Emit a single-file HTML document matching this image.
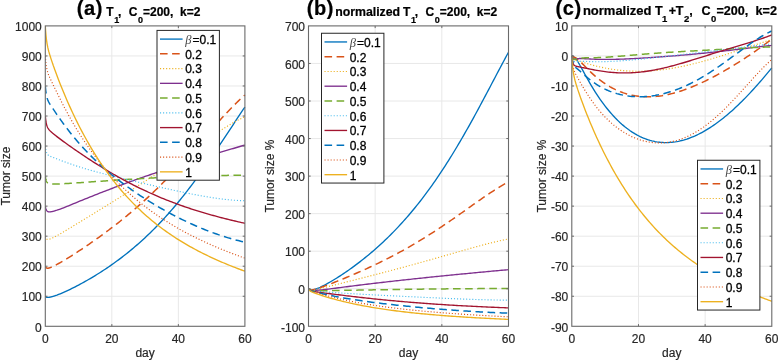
<!DOCTYPE html>
<html><head><meta charset="utf-8"><style>
html,body{margin:0;padding:0;background:#fff;width:778px;height:360px;overflow:hidden}
svg{display:block;will-change:transform}
.t{font-family:"Liberation Sans",sans-serif;font-size:12px;fill:#262626;stroke:#262626;stroke-width:0.18px}
.lg{fill:#000;stroke:#000;stroke-width:0.3px}
.beta{font-family:"Liberation Serif",serif;font-style:italic;font-size:12.5px;fill:#444}
.tb{font-family:"Liberation Sans",sans-serif;font-weight:bold;fill:#000;stroke:#000;stroke-width:0.22px}
</style></head><body>
<svg width="778" height="360" viewBox="0 0 778 360">
<defs>
<clipPath id="clipa"><rect x="45.30" y="24.90" width="200.60" height="302.40"/></clipPath>
<clipPath id="clipb"><rect x="308.50" y="24.90" width="201.00" height="302.40"/></clipPath>
<clipPath id="clipc"><rect x="571.80" y="24.90" width="201.00" height="302.40"/></clipPath>
</defs>
<rect width="778" height="360" fill="#fff"/>
<line x1="111.83" y1="25.90" x2="111.83" y2="326.30" stroke="#e8e8e8" stroke-width="1"/>
<line x1="178.37" y1="25.90" x2="178.37" y2="326.30" stroke="#e8e8e8" stroke-width="1"/>
<line x1="45.30" y1="296.26" x2="244.90" y2="296.26" stroke="#e8e8e8" stroke-width="1"/>
<line x1="45.30" y1="266.22" x2="244.90" y2="266.22" stroke="#e8e8e8" stroke-width="1"/>
<line x1="45.30" y1="236.18" x2="244.90" y2="236.18" stroke="#e8e8e8" stroke-width="1"/>
<line x1="45.30" y1="206.14" x2="244.90" y2="206.14" stroke="#e8e8e8" stroke-width="1"/>
<line x1="45.30" y1="176.10" x2="244.90" y2="176.10" stroke="#e8e8e8" stroke-width="1"/>
<line x1="45.30" y1="146.06" x2="244.90" y2="146.06" stroke="#e8e8e8" stroke-width="1"/>
<line x1="45.30" y1="116.02" x2="244.90" y2="116.02" stroke="#e8e8e8" stroke-width="1"/>
<line x1="45.30" y1="85.98" x2="244.90" y2="85.98" stroke="#e8e8e8" stroke-width="1"/>
<line x1="45.30" y1="55.94" x2="244.90" y2="55.94" stroke="#e8e8e8" stroke-width="1"/>
<line x1="375.17" y1="25.90" x2="375.17" y2="326.30" stroke="#e8e8e8" stroke-width="1"/>
<line x1="441.83" y1="25.90" x2="441.83" y2="326.30" stroke="#e8e8e8" stroke-width="1"/>
<line x1="308.50" y1="288.75" x2="508.50" y2="288.75" stroke="#e8e8e8" stroke-width="1"/>
<line x1="308.50" y1="251.20" x2="508.50" y2="251.20" stroke="#e8e8e8" stroke-width="1"/>
<line x1="308.50" y1="213.65" x2="508.50" y2="213.65" stroke="#e8e8e8" stroke-width="1"/>
<line x1="308.50" y1="176.10" x2="508.50" y2="176.10" stroke="#e8e8e8" stroke-width="1"/>
<line x1="308.50" y1="138.55" x2="508.50" y2="138.55" stroke="#e8e8e8" stroke-width="1"/>
<line x1="308.50" y1="101.00" x2="508.50" y2="101.00" stroke="#e8e8e8" stroke-width="1"/>
<line x1="308.50" y1="63.45" x2="508.50" y2="63.45" stroke="#e8e8e8" stroke-width="1"/>
<line x1="638.47" y1="25.90" x2="638.47" y2="326.30" stroke="#e8e8e8" stroke-width="1"/>
<line x1="705.13" y1="25.90" x2="705.13" y2="326.30" stroke="#e8e8e8" stroke-width="1"/>
<line x1="571.80" y1="296.26" x2="771.80" y2="296.26" stroke="#e8e8e8" stroke-width="1"/>
<line x1="571.80" y1="266.22" x2="771.80" y2="266.22" stroke="#e8e8e8" stroke-width="1"/>
<line x1="571.80" y1="236.18" x2="771.80" y2="236.18" stroke="#e8e8e8" stroke-width="1"/>
<line x1="571.80" y1="206.14" x2="771.80" y2="206.14" stroke="#e8e8e8" stroke-width="1"/>
<line x1="571.80" y1="176.10" x2="771.80" y2="176.10" stroke="#e8e8e8" stroke-width="1"/>
<line x1="571.80" y1="146.06" x2="771.80" y2="146.06" stroke="#e8e8e8" stroke-width="1"/>
<line x1="571.80" y1="116.02" x2="771.80" y2="116.02" stroke="#e8e8e8" stroke-width="1"/>
<line x1="571.80" y1="85.98" x2="771.80" y2="85.98" stroke="#e8e8e8" stroke-width="1"/>
<line x1="571.80" y1="55.94" x2="771.80" y2="55.94" stroke="#e8e8e8" stroke-width="1"/>
<path d="M45.30 296.26 L45.47 296.47 L45.63 296.64 L45.80 296.79 L45.97 296.92 L46.13 297.02 L46.30 297.11 L46.46 297.18 L46.63 297.24 L46.80 297.29 L46.96 297.33 L47.13 297.36 L47.30 297.38 L47.46 297.39 L47.63 297.40 L47.79 297.41 L47.96 297.40 L48.13 297.40 L48.29 297.39 L48.46 297.38 L48.63 297.36 L48.79 297.34 L48.96 297.32 L49.13 297.30 L49.29 297.28 L49.46 297.25 L49.62 297.22 L49.79 297.19 L49.96 297.16 L50.12 297.13 L50.29 297.09 L50.46 297.06 L50.62 297.02 L50.79 296.98 L50.96 296.94 L51.12 296.90 L51.29 296.86 L51.45 296.82 L51.62 296.78 L51.79 296.74 L51.95 296.69 L52.12 296.65 L52.29 296.60 L52.45 296.55 L52.62 296.51 L52.78 296.46 L52.95 296.41 L53.12 296.36 L53.28 296.31 L53.45 296.26 L53.62 296.21 L53.78 296.16 L53.95 296.10 L54.12 296.05 L54.28 296.00 L54.45 295.94 L54.61 295.89 L54.78 295.83 L54.95 295.78 L55.11 295.72 L55.28 295.67 L56.94 295.08 L58.61 294.44 L60.27 293.78 L61.93 293.08 L63.60 292.36 L65.26 291.62 L66.92 290.86 L68.59 290.07 L70.25 289.28 L71.91 288.46 L73.58 287.63 L75.24 286.78 L76.90 285.92 L78.57 285.05 L80.23 284.16 L81.89 283.26 L83.56 282.35 L85.22 281.42 L86.88 280.48 L88.55 279.52 L90.21 278.55 L91.87 277.57 L93.54 276.58 L95.20 275.57 L96.86 274.54 L98.53 273.50 L100.19 272.45 L101.85 271.38 L103.52 270.30 L105.18 269.20 L106.84 268.09 L108.51 266.96 L110.17 265.82 L111.83 264.65 L113.50 263.48 L115.16 262.28 L116.82 261.07 L118.49 259.84 L120.15 258.60 L121.81 257.34 L123.48 256.05 L125.14 254.75 L126.80 253.44 L128.47 252.10 L130.13 250.74 L131.79 249.37 L133.46 247.97 L135.12 246.56 L136.78 245.12 L138.45 243.67 L140.11 242.19 L141.77 240.70 L143.44 239.18 L145.10 237.64 L146.76 236.08 L148.43 234.49 L150.09 232.89 L151.75 231.26 L153.42 229.61 L155.08 227.93 L156.74 226.24 L158.41 224.52 L160.07 222.77 L161.73 221.00 L163.40 219.21 L165.06 217.40 L166.72 215.56 L168.39 213.70 L170.05 211.81 L171.71 209.90 L173.38 207.96 L175.04 206.00 L176.70 204.02 L178.37 202.01 L180.03 199.98 L181.69 197.92 L183.36 195.84 L185.02 193.73 L186.68 191.60 L188.35 189.45 L190.01 187.28 L191.67 185.08 L193.34 182.86 L195.00 180.61 L196.66 178.35 L198.33 176.06 L199.99 173.76 L201.65 171.43 L203.32 169.08 L204.98 166.71 L206.64 164.33 L208.31 161.93 L209.97 159.51 L211.63 157.07 L213.30 154.63 L214.96 152.16 L216.62 149.69 L218.29 147.20 L219.95 144.70 L221.61 142.19 L223.28 139.68 L224.94 137.16 L226.60 134.63 L228.27 132.10 L229.93 129.57 L231.59 127.04 L233.26 124.51 L234.92 121.98 L236.58 119.46 L238.25 116.95 L239.91 114.45 L241.57 111.96 L243.24 109.49 L244.90 107.03" fill="none" stroke="#0072BD" stroke-width="1.35"  stroke-linejoin="round" clip-path="url(#clipa)"/>
<path d="M45.30 266.22 L45.47 266.60 L45.63 266.93 L45.80 267.20 L45.97 267.42 L46.13 267.61 L46.30 267.76 L46.46 267.88 L46.63 267.98 L46.80 268.06 L46.96 268.12 L47.13 268.16 L47.30 268.19 L47.46 268.21 L47.63 268.22 L47.79 268.22 L47.96 268.21 L48.13 268.19 L48.29 268.17 L48.46 268.14 L48.63 268.10 L48.79 268.06 L48.96 268.02 L49.13 267.98 L49.29 267.93 L49.46 267.88 L49.62 267.83 L49.79 267.77 L49.96 267.71 L50.12 267.65 L50.29 267.59 L50.46 267.53 L50.62 267.46 L50.79 267.40 L50.96 267.33 L51.12 267.26 L51.29 267.19 L51.45 267.12 L51.62 267.05 L51.79 266.98 L51.95 266.91 L52.12 266.83 L52.29 266.76 L52.45 266.68 L52.62 266.61 L52.78 266.53 L52.95 266.45 L53.12 266.38 L53.28 266.30 L53.45 266.22 L53.62 266.14 L53.78 266.06 L53.95 265.98 L54.12 265.90 L54.28 265.81 L54.45 265.73 L54.61 265.65 L54.78 265.56 L54.95 265.48 L55.11 265.40 L55.28 265.31 L56.94 264.44 L58.61 263.53 L60.27 262.59 L61.93 261.63 L63.60 260.65 L65.26 259.65 L66.92 258.64 L68.59 257.61 L70.25 256.57 L71.91 255.52 L73.58 254.46 L75.24 253.39 L76.90 252.31 L78.57 251.22 L80.23 250.13 L81.89 249.03 L83.56 247.91 L85.22 246.80 L86.88 245.67 L88.55 244.53 L90.21 243.39 L91.87 242.24 L93.54 241.08 L95.20 239.91 L96.86 238.73 L98.53 237.55 L100.19 236.35 L101.85 235.14 L103.52 233.93 L105.18 232.71 L106.84 231.47 L108.51 230.23 L110.17 228.97 L111.83 227.71 L113.50 226.43 L115.16 225.15 L116.82 223.85 L118.49 222.54 L120.15 221.22 L121.81 219.89 L123.48 218.55 L125.14 217.19 L126.80 215.82 L128.47 214.44 L130.13 213.05 L131.79 211.64 L133.46 210.22 L135.12 208.79 L136.78 207.34 L138.45 205.89 L140.11 204.41 L141.77 202.93 L143.44 201.43 L145.10 199.91 L146.76 198.39 L148.43 196.84 L150.09 195.29 L151.75 193.72 L153.42 192.13 L155.08 190.54 L156.74 188.92 L158.41 187.30 L160.07 185.66 L161.73 184.00 L163.40 182.34 L165.06 180.66 L166.72 178.96 L168.39 177.25 L170.05 175.53 L171.71 173.80 L173.38 172.05 L175.04 170.29 L176.70 168.52 L178.37 166.74 L180.03 164.94 L181.69 163.14 L183.36 161.32 L185.02 159.50 L186.68 157.66 L188.35 155.82 L190.01 153.96 L191.67 152.10 L193.34 150.24 L195.00 148.36 L196.66 146.49 L198.33 144.60 L199.99 142.72 L201.65 140.83 L203.32 138.94 L204.98 137.05 L206.64 135.15 L208.31 133.26 L209.97 131.38 L211.63 129.49 L213.30 127.62 L214.96 125.74 L216.62 123.88 L218.29 122.03 L219.95 120.18 L221.61 118.35 L223.28 116.54 L224.94 114.73 L226.60 112.95 L228.27 111.19 L229.93 109.44 L231.59 107.73 L233.26 106.03 L234.92 104.36 L236.58 102.73 L238.25 101.12 L239.91 99.55 L241.57 98.01 L243.24 96.51 L244.90 95.05" fill="none" stroke="#D95319" stroke-width="1.50" stroke-dasharray="7.6 4.5" stroke-linejoin="round" clip-path="url(#clipa)"/>
<path d="M45.30 236.18 L45.47 236.77 L45.63 237.26 L45.80 237.68 L45.97 238.03 L46.13 238.33 L46.30 238.57 L46.46 238.77 L46.63 238.94 L46.80 239.07 L46.96 239.18 L47.13 239.26 L47.30 239.33 L47.46 239.37 L47.63 239.41 L47.79 239.42 L47.96 239.43 L48.13 239.43 L48.29 239.42 L48.46 239.40 L48.63 239.37 L48.79 239.34 L48.96 239.30 L49.13 239.26 L49.29 239.21 L49.46 239.16 L49.62 239.11 L49.79 239.06 L49.96 239.00 L50.12 238.94 L50.29 238.88 L50.46 238.81 L50.62 238.75 L50.79 238.68 L50.96 238.61 L51.12 238.54 L51.29 238.47 L51.45 238.39 L51.62 238.32 L51.79 238.25 L51.95 238.17 L52.12 238.09 L52.29 238.02 L52.45 237.94 L52.62 237.86 L52.78 237.78 L52.95 237.70 L53.12 237.62 L53.28 237.54 L53.45 237.46 L53.62 237.38 L53.78 237.29 L53.95 237.21 L54.12 237.13 L54.28 237.04 L54.45 236.96 L54.61 236.87 L54.78 236.78 L54.95 236.70 L55.11 236.61 L55.28 236.53 L56.94 235.64 L58.61 234.72 L60.27 233.77 L61.93 232.81 L63.60 231.84 L65.26 230.86 L66.92 229.86 L68.59 228.87 L70.25 227.86 L71.91 226.85 L73.58 225.84 L75.24 224.83 L76.90 223.82 L78.57 222.81 L80.23 221.79 L81.89 220.77 L83.56 219.76 L85.22 218.74 L86.88 217.72 L88.55 216.70 L90.21 215.69 L91.87 214.67 L93.54 213.65 L95.20 212.63 L96.86 211.61 L98.53 210.58 L100.19 209.56 L101.85 208.54 L103.52 207.51 L105.18 206.49 L106.84 205.46 L108.51 204.43 L110.17 203.40 L111.83 202.36 L113.50 201.33 L115.16 200.29 L116.82 199.26 L118.49 198.22 L120.15 197.17 L121.81 196.13 L123.48 195.08 L125.14 194.03 L126.80 192.98 L128.47 191.92 L130.13 190.86 L131.79 189.80 L133.46 188.74 L135.12 187.67 L136.78 186.60 L138.45 185.53 L140.11 184.45 L141.77 183.37 L143.44 182.29 L145.10 181.20 L146.76 180.11 L148.43 179.02 L150.09 177.92 L151.75 176.82 L153.42 175.72 L155.08 174.62 L156.74 173.51 L158.41 172.39 L160.07 171.28 L161.73 170.16 L163.40 169.04 L165.06 167.92 L166.72 166.79 L168.39 165.66 L170.05 164.53 L171.71 163.40 L173.38 162.26 L175.04 161.13 L176.70 159.99 L178.37 158.85 L180.03 157.70 L181.69 156.56 L183.36 155.42 L185.02 154.27 L186.68 153.13 L188.35 151.99 L190.01 150.84 L191.67 149.70 L193.34 148.56 L195.00 147.42 L196.66 146.28 L198.33 145.14 L199.99 144.01 L201.65 142.88 L203.32 141.75 L204.98 140.63 L206.64 139.51 L208.31 138.40 L209.97 137.29 L211.63 136.19 L213.30 135.09 L214.96 134.01 L216.62 132.93 L218.29 131.86 L219.95 130.80 L221.61 129.75 L223.28 128.71 L224.94 127.69 L226.60 126.67 L228.27 125.67 L229.93 124.69 L231.59 123.72 L233.26 122.76 L234.92 121.82 L236.58 120.90 L238.25 120.00 L239.91 119.12 L241.57 118.25 L243.24 117.41 L244.90 116.60" fill="none" stroke="#EDB120" stroke-width="1.15" stroke-dasharray="1.1 1.95"  stroke-linejoin="round" clip-path="url(#clipa)"/>
<path d="M45.30 206.14 L45.47 207.00 L45.63 207.74 L45.80 208.37 L45.97 208.91 L46.13 209.38 L46.30 209.77 L46.46 210.12 L46.63 210.41 L46.80 210.66 L46.96 210.87 L47.13 211.06 L47.30 211.21 L47.46 211.34 L47.63 211.46 L47.79 211.55 L47.96 211.63 L48.13 211.69 L48.29 211.75 L48.46 211.79 L48.63 211.83 L48.79 211.85 L48.96 211.87 L49.13 211.88 L49.29 211.89 L49.46 211.89 L49.62 211.89 L49.79 211.89 L49.96 211.88 L50.12 211.87 L50.29 211.85 L50.46 211.83 L50.62 211.81 L50.79 211.79 L50.96 211.77 L51.12 211.74 L51.29 211.71 L51.45 211.68 L51.62 211.65 L51.79 211.62 L51.95 211.59 L52.12 211.55 L52.29 211.52 L52.45 211.48 L52.62 211.44 L52.78 211.40 L52.95 211.36 L53.12 211.32 L53.28 211.28 L53.45 211.24 L53.62 211.20 L53.78 211.15 L53.95 211.11 L54.12 211.06 L54.28 211.01 L54.45 210.97 L54.61 210.92 L54.78 210.87 L54.95 210.82 L55.11 210.77 L55.28 210.72 L56.94 210.20 L58.61 209.63 L60.27 209.03 L61.93 208.40 L63.60 207.76 L65.26 207.10 L66.92 206.44 L68.59 205.76 L70.25 205.08 L71.91 204.40 L73.58 203.72 L75.24 203.03 L76.90 202.35 L78.57 201.66 L80.23 200.98 L81.89 200.30 L83.56 199.62 L85.22 198.95 L86.88 198.27 L88.55 197.60 L90.21 196.93 L91.87 196.26 L93.54 195.60 L95.20 194.94 L96.86 194.28 L98.53 193.63 L100.19 192.98 L101.85 192.33 L103.52 191.68 L105.18 191.04 L106.84 190.40 L108.51 189.76 L110.17 189.13 L111.83 188.50 L113.50 187.87 L115.16 187.24 L116.82 186.62 L118.49 186.00 L120.15 185.39 L121.81 184.77 L123.48 184.16 L125.14 183.55 L126.80 182.95 L128.47 182.34 L130.13 181.74 L131.79 181.15 L133.46 180.55 L135.12 179.96 L136.78 179.37 L138.45 178.78 L140.11 178.20 L141.77 177.62 L143.44 177.04 L145.10 176.46 L146.76 175.88 L148.43 175.31 L150.09 174.74 L151.75 174.17 L153.42 173.61 L155.08 173.05 L156.74 172.48 L158.41 171.93 L160.07 171.37 L161.73 170.81 L163.40 170.26 L165.06 169.71 L166.72 169.16 L168.39 168.62 L170.05 168.07 L171.71 167.53 L173.38 166.99 L175.04 166.45 L176.70 165.91 L178.37 165.37 L180.03 164.84 L181.69 164.31 L183.36 163.78 L185.02 163.25 L186.68 162.72 L188.35 162.20 L190.01 161.67 L191.67 161.15 L193.34 160.63 L195.00 160.11 L196.66 159.59 L198.33 159.07 L199.99 158.56 L201.65 158.04 L203.32 157.53 L204.98 157.02 L206.64 156.51 L208.31 156.00 L209.97 155.49 L211.63 154.98 L213.30 154.47 L214.96 153.97 L216.62 153.47 L218.29 152.96 L219.95 152.46 L221.61 151.96 L223.28 151.46 L224.94 150.96 L226.60 150.46 L228.27 149.96 L229.93 149.47 L231.59 148.97 L233.26 148.48 L234.92 147.98 L236.58 147.49 L238.25 146.99 L239.91 146.50 L241.57 146.01 L243.24 145.52 L244.90 145.03" fill="none" stroke="#7E2F8E" stroke-width="1.35"  stroke-linejoin="round" clip-path="url(#clipa)"/>
<path d="M45.30 176.10 L45.47 177.17 L45.63 178.09 L45.80 178.89 L45.97 179.57 L46.13 180.15 L46.30 180.66 L46.46 181.09 L46.63 181.47 L46.80 181.80 L46.96 182.08 L47.13 182.32 L47.30 182.53 L47.46 182.72 L47.63 182.88 L47.79 183.02 L47.96 183.14 L48.13 183.25 L48.29 183.34 L48.46 183.42 L48.63 183.49 L48.79 183.56 L48.96 183.61 L49.13 183.66 L49.29 183.70 L49.46 183.74 L49.62 183.77 L49.79 183.80 L49.96 183.83 L50.12 183.86 L50.29 183.88 L50.46 183.90 L50.62 183.91 L50.79 183.93 L50.96 183.94 L51.12 183.95 L51.29 183.96 L51.45 183.97 L51.62 183.98 L51.79 183.99 L51.95 184.00 L52.12 184.00 L52.29 184.01 L52.45 184.01 L52.62 184.02 L52.78 184.02 L52.95 184.02 L53.12 184.03 L53.28 184.03 L53.45 184.03 L53.62 184.03 L53.78 184.03 L53.95 184.03 L54.12 184.03 L54.28 184.03 L54.45 184.03 L54.61 184.03 L54.78 184.03 L54.95 184.03 L55.11 184.02 L55.28 184.02 L56.94 183.99 L58.61 183.94 L60.27 183.87 L61.93 183.80 L63.60 183.71 L65.26 183.62 L66.92 183.52 L68.59 183.41 L70.25 183.31 L71.91 183.20 L73.58 183.09 L75.24 182.98 L76.90 182.86 L78.57 182.75 L80.23 182.63 L81.89 182.52 L83.56 182.40 L85.22 182.29 L86.88 182.17 L88.55 182.05 L90.21 181.94 L91.87 181.82 L93.54 181.70 L95.20 181.59 L96.86 181.47 L98.53 181.36 L100.19 181.24 L101.85 181.13 L103.52 181.01 L105.18 180.90 L106.84 180.78 L108.51 180.67 L110.17 180.56 L111.83 180.45 L113.50 180.34 L115.16 180.23 L116.82 180.12 L118.49 180.01 L120.15 179.90 L121.81 179.79 L123.48 179.68 L125.14 179.58 L126.80 179.47 L128.47 179.37 L130.13 179.26 L131.79 179.16 L133.46 179.06 L135.12 178.96 L136.78 178.86 L138.45 178.76 L140.11 178.66 L141.77 178.57 L143.44 178.47 L145.10 178.38 L146.76 178.28 L148.43 178.19 L150.09 178.10 L151.75 178.01 L153.42 177.92 L155.08 177.83 L156.74 177.75 L158.41 177.66 L160.07 177.58 L161.73 177.49 L163.40 177.41 L165.06 177.33 L166.72 177.25 L168.39 177.18 L170.05 177.10 L171.71 177.03 L173.38 176.95 L175.04 176.88 L176.70 176.81 L178.37 176.74 L180.03 176.67 L181.69 176.61 L183.36 176.54 L185.02 176.48 L186.68 176.42 L188.35 176.36 L190.01 176.30 L191.67 176.24 L193.34 176.19 L195.00 176.13 L196.66 176.08 L198.33 176.03 L199.99 175.98 L201.65 175.93 L203.32 175.88 L204.98 175.84 L206.64 175.79 L208.31 175.75 L209.97 175.71 L211.63 175.67 L213.30 175.63 L214.96 175.60 L216.62 175.56 L218.29 175.53 L219.95 175.50 L221.61 175.47 L223.28 175.44 L224.94 175.41 L226.60 175.39 L228.27 175.36 L229.93 175.34 L231.59 175.32 L233.26 175.30 L234.92 175.28 L236.58 175.27 L238.25 175.25 L239.91 175.24 L241.57 175.23 L243.24 175.21 L244.90 175.21" fill="none" stroke="#77AC30" stroke-width="1.50" stroke-dasharray="7.6 4.5" stroke-linejoin="round" clip-path="url(#clipa)"/>
<path d="M45.30 146.06 L45.47 147.36 L45.63 148.47 L45.80 149.43 L45.97 150.26 L46.13 150.98 L46.30 151.60 L46.46 152.15 L46.63 152.62 L46.80 153.03 L46.96 153.40 L47.13 153.71 L47.30 154.00 L47.46 154.25 L47.63 154.47 L47.79 154.67 L47.96 154.85 L48.13 155.01 L48.29 155.16 L48.46 155.29 L48.63 155.42 L48.79 155.53 L48.96 155.64 L49.13 155.74 L49.29 155.83 L49.46 155.92 L49.62 156.01 L49.79 156.09 L49.96 156.17 L50.12 156.25 L50.29 156.32 L50.46 156.39 L50.62 156.46 L50.79 156.53 L50.96 156.60 L51.12 156.67 L51.29 156.74 L51.45 156.80 L51.62 156.87 L51.79 156.93 L51.95 157.00 L52.12 157.06 L52.29 157.13 L52.45 157.19 L52.62 157.26 L52.78 157.32 L52.95 157.39 L53.12 157.45 L53.28 157.51 L53.45 157.58 L53.62 157.64 L53.78 157.70 L53.95 157.77 L54.12 157.83 L54.28 157.90 L54.45 157.96 L54.61 158.02 L54.78 158.09 L54.95 158.15 L55.11 158.22 L55.28 158.28 L56.94 158.92 L58.61 159.57 L60.27 160.21 L61.93 160.84 L63.60 161.47 L65.26 162.08 L66.92 162.69 L68.59 163.29 L70.25 163.88 L71.91 164.45 L73.58 165.02 L75.24 165.57 L76.90 166.12 L78.57 166.65 L80.23 167.18 L81.89 167.70 L83.56 168.20 L85.22 168.70 L86.88 169.20 L88.55 169.68 L90.21 170.16 L91.87 170.63 L93.54 171.09 L95.20 171.55 L96.86 172.00 L98.53 172.45 L100.19 172.89 L101.85 173.32 L103.52 173.76 L105.18 174.18 L106.84 174.61 L108.51 175.03 L110.17 175.45 L111.83 175.86 L113.50 176.27 L115.16 176.68 L116.82 177.09 L118.49 177.49 L120.15 177.90 L121.81 178.30 L123.48 178.69 L125.14 179.09 L126.80 179.49 L128.47 179.88 L130.13 180.27 L131.79 180.67 L133.46 181.06 L135.12 181.45 L136.78 181.84 L138.45 182.22 L140.11 182.61 L141.77 183.00 L143.44 183.38 L145.10 183.77 L146.76 184.15 L148.43 184.53 L150.09 184.92 L151.75 185.30 L153.42 185.68 L155.08 186.06 L156.74 186.44 L158.41 186.82 L160.07 187.19 L161.73 187.57 L163.40 187.94 L165.06 188.32 L166.72 188.69 L168.39 189.06 L170.05 189.43 L171.71 189.80 L173.38 190.16 L175.04 190.52 L176.70 190.88 L178.37 191.24 L180.03 191.60 L181.69 191.95 L183.36 192.30 L185.02 192.64 L186.68 192.99 L188.35 193.33 L190.01 193.66 L191.67 193.99 L193.34 194.32 L195.00 194.64 L196.66 194.96 L198.33 195.27 L199.99 195.58 L201.65 195.88 L203.32 196.18 L204.98 196.47 L206.64 196.75 L208.31 197.03 L209.97 197.30 L211.63 197.56 L213.30 197.82 L214.96 198.06 L216.62 198.30 L218.29 198.53 L219.95 198.75 L221.61 198.96 L223.28 199.17 L224.94 199.36 L226.60 199.54 L228.27 199.71 L229.93 199.87 L231.59 200.02 L233.26 200.16 L234.92 200.28 L236.58 200.39 L238.25 200.49 L239.91 200.57 L241.57 200.64 L243.24 200.70 L244.90 200.73" fill="none" stroke="#4DBEEE" stroke-width="1.15" stroke-dasharray="1.1 1.95"  stroke-linejoin="round" clip-path="url(#clipa)"/>
<path d="M45.30 116.02 L45.47 117.67 L45.63 119.10 L45.80 120.35 L45.97 121.44 L46.13 122.40 L46.30 123.24 L46.46 123.99 L46.63 124.66 L46.80 125.25 L46.96 125.78 L47.13 126.26 L47.30 126.70 L47.46 127.09 L47.63 127.45 L47.79 127.78 L47.96 128.09 L48.13 128.37 L48.29 128.64 L48.46 128.89 L48.63 129.13 L48.79 129.35 L48.96 129.57 L49.13 129.77 L49.29 129.97 L49.46 130.16 L49.62 130.34 L49.79 130.52 L49.96 130.69 L50.12 130.86 L50.29 131.03 L50.46 131.19 L50.62 131.35 L50.79 131.51 L50.96 131.66 L51.12 131.81 L51.29 131.97 L51.45 132.12 L51.62 132.26 L51.79 132.41 L51.95 132.56 L52.12 132.70 L52.29 132.84 L52.45 132.99 L52.62 133.13 L52.78 133.27 L52.95 133.41 L53.12 133.55 L53.28 133.69 L53.45 133.82 L53.62 133.96 L53.78 134.10 L53.95 134.23 L54.12 134.37 L54.28 134.51 L54.45 134.64 L54.61 134.78 L54.78 134.91 L54.95 135.04 L55.11 135.18 L55.28 135.31 L56.94 136.62 L58.61 137.90 L60.27 139.15 L61.93 140.39 L63.60 141.61 L65.26 142.82 L66.92 144.02 L68.59 145.21 L70.25 146.39 L71.91 147.56 L73.58 148.72 L75.24 149.87 L76.90 151.02 L78.57 152.16 L80.23 153.29 L81.89 154.41 L83.56 155.53 L85.22 156.64 L86.88 157.74 L88.55 158.83 L90.21 159.92 L91.87 161.00 L93.54 162.06 L95.20 163.13 L96.86 164.18 L98.53 165.22 L100.19 166.26 L101.85 167.28 L103.52 168.30 L105.18 169.31 L106.84 170.31 L108.51 171.30 L110.17 172.28 L111.83 173.25 L113.50 174.22 L115.16 175.17 L116.82 176.11 L118.49 177.05 L120.15 177.97 L121.81 178.89 L123.48 179.80 L125.14 180.69 L126.80 181.58 L128.47 182.46 L130.13 183.32 L131.79 184.18 L133.46 185.03 L135.12 185.87 L136.78 186.70 L138.45 187.52 L140.11 188.33 L141.77 189.13 L143.44 189.92 L145.10 190.71 L146.76 191.48 L148.43 192.24 L150.09 193.00 L151.75 193.74 L153.42 194.48 L155.08 195.21 L156.74 195.92 L158.41 196.63 L160.07 197.33 L161.73 198.02 L163.40 198.71 L165.06 199.38 L166.72 200.05 L168.39 200.70 L170.05 201.35 L171.71 201.99 L173.38 202.62 L175.04 203.24 L176.70 203.86 L178.37 204.46 L180.03 205.06 L181.69 205.65 L183.36 206.24 L185.02 206.81 L186.68 207.38 L188.35 207.94 L190.01 208.49 L191.67 209.04 L193.34 209.58 L195.00 210.11 L196.66 210.63 L198.33 211.15 L199.99 211.66 L201.65 212.16 L203.32 212.66 L204.98 213.15 L206.64 213.64 L208.31 214.11 L209.97 214.59 L211.63 215.05 L213.30 215.51 L214.96 215.97 L216.62 216.42 L218.29 216.86 L219.95 217.30 L221.61 217.73 L223.28 218.16 L224.94 218.58 L226.60 218.99 L228.27 219.41 L229.93 219.81 L231.59 220.22 L233.26 220.62 L234.92 221.01 L236.58 221.40 L238.25 221.79 L239.91 222.17 L241.57 222.55 L243.24 222.92 L244.90 223.29" fill="none" stroke="#A2142F" stroke-width="1.35"  stroke-linejoin="round" clip-path="url(#clipa)"/>
<path d="M45.30 85.98 L45.47 87.88 L45.63 89.54 L45.80 90.99 L45.97 92.27 L46.13 93.39 L46.30 94.39 L46.46 95.28 L46.63 96.08 L46.80 96.80 L46.96 97.45 L47.13 98.04 L47.30 98.58 L47.46 99.08 L47.63 99.54 L47.79 99.98 L47.96 100.38 L48.13 100.76 L48.29 101.13 L48.46 101.47 L48.63 101.80 L48.79 102.12 L48.96 102.43 L49.13 102.73 L49.29 103.02 L49.46 103.31 L49.62 103.59 L49.79 103.86 L49.96 104.13 L50.12 104.40 L50.29 104.66 L50.46 104.92 L50.62 105.18 L50.79 105.44 L50.96 105.70 L51.12 105.95 L51.29 106.21 L51.45 106.46 L51.62 106.71 L51.79 106.96 L51.95 107.21 L52.12 107.46 L52.29 107.71 L52.45 107.96 L52.62 108.21 L52.78 108.45 L52.95 108.70 L53.12 108.95 L53.28 109.20 L53.45 109.44 L53.62 109.69 L53.78 109.94 L53.95 110.18 L54.12 110.43 L54.28 110.67 L54.45 110.92 L54.61 111.16 L54.78 111.41 L54.95 111.65 L55.11 111.90 L55.28 112.14 L56.94 114.57 L58.61 116.97 L60.27 119.34 L61.93 121.67 L63.60 123.96 L65.26 126.21 L66.92 128.42 L68.59 130.58 L70.25 132.71 L71.91 134.79 L73.58 136.83 L75.24 138.83 L76.90 140.79 L78.57 142.71 L80.23 144.60 L81.89 146.45 L83.56 148.26 L85.22 150.04 L86.88 151.79 L88.55 153.51 L90.21 155.20 L91.87 156.86 L93.54 158.49 L95.20 160.09 L96.86 161.66 L98.53 163.21 L100.19 164.74 L101.85 166.24 L103.52 167.72 L105.18 169.17 L106.84 170.60 L108.51 172.02 L110.17 173.41 L111.83 174.78 L113.50 176.13 L115.16 177.46 L116.82 178.78 L118.49 180.07 L120.15 181.35 L121.81 182.62 L123.48 183.86 L125.14 185.09 L126.80 186.31 L128.47 187.51 L130.13 188.69 L131.79 189.86 L133.46 191.02 L135.12 192.16 L136.78 193.29 L138.45 194.41 L140.11 195.51 L141.77 196.60 L143.44 197.68 L145.10 198.74 L146.76 199.79 L148.43 200.84 L150.09 201.86 L151.75 202.88 L153.42 203.89 L155.08 204.88 L156.74 205.86 L158.41 206.84 L160.07 207.80 L161.73 208.75 L163.40 209.69 L165.06 210.61 L166.72 211.53 L168.39 212.44 L170.05 213.33 L171.71 214.22 L173.38 215.10 L175.04 215.96 L176.70 216.81 L178.37 217.66 L180.03 218.49 L181.69 219.31 L183.36 220.12 L185.02 220.92 L186.68 221.71 L188.35 222.49 L190.01 223.26 L191.67 224.02 L193.34 224.77 L195.00 225.50 L196.66 226.23 L198.33 226.95 L199.99 227.65 L201.65 228.34 L203.32 229.02 L204.98 229.69 L206.64 230.35 L208.31 231.00 L209.97 231.64 L211.63 232.26 L213.30 232.88 L214.96 233.48 L216.62 234.07 L218.29 234.64 L219.95 235.21 L221.61 235.76 L223.28 236.31 L224.94 236.83 L226.60 237.35 L228.27 237.85 L229.93 238.34 L231.59 238.82 L233.26 239.29 L234.92 239.74 L236.58 240.17 L238.25 240.60 L239.91 241.01 L241.57 241.40 L243.24 241.79 L244.90 242.15" fill="none" stroke="#0072BD" stroke-width="1.50" stroke-dasharray="7.6 4.5" stroke-linejoin="round" clip-path="url(#clipa)"/>
<path d="M45.30 55.94 L45.47 58.14 L45.63 60.06 L45.80 61.75 L45.97 63.24 L46.13 64.57 L46.30 65.75 L46.46 66.81 L46.63 67.76 L46.80 68.63 L46.96 69.42 L47.13 70.15 L47.30 70.82 L47.46 71.44 L47.63 72.02 L47.79 72.57 L47.96 73.08 L48.13 73.57 L48.29 74.04 L48.46 74.49 L48.63 74.93 L48.79 75.35 L48.96 75.76 L49.13 76.16 L49.29 76.55 L49.46 76.94 L49.62 77.32 L49.79 77.69 L49.96 78.06 L50.12 78.43 L50.29 78.79 L50.46 79.15 L50.62 79.51 L50.79 79.86 L50.96 80.22 L51.12 80.57 L51.29 80.92 L51.45 81.27 L51.62 81.62 L51.79 81.97 L51.95 82.32 L52.12 82.66 L52.29 83.01 L52.45 83.36 L52.62 83.70 L52.78 84.05 L52.95 84.39 L53.12 84.74 L53.28 85.09 L53.45 85.43 L53.62 85.78 L53.78 86.12 L53.95 86.46 L54.12 86.81 L54.28 87.15 L54.45 87.50 L54.61 87.84 L54.78 88.18 L54.95 88.53 L55.11 88.87 L55.28 89.21 L56.94 92.62 L58.61 96.00 L60.27 99.33 L61.93 102.62 L63.60 105.85 L65.26 109.02 L66.92 112.13 L68.59 115.19 L70.25 118.18 L71.91 121.12 L73.58 123.99 L75.24 126.81 L76.90 129.57 L78.57 132.27 L80.23 134.92 L81.89 137.51 L83.56 140.05 L85.22 142.53 L86.88 144.97 L88.55 147.36 L90.21 149.70 L91.87 151.99 L93.54 154.23 L95.20 156.44 L96.86 158.59 L98.53 160.71 L100.19 162.79 L101.85 164.82 L103.52 166.82 L105.18 168.78 L106.84 170.70 L108.51 172.58 L110.17 174.43 L111.83 176.25 L113.50 178.03 L115.16 179.78 L116.82 181.50 L118.49 183.19 L120.15 184.84 L121.81 186.47 L123.48 188.07 L125.14 189.64 L126.80 191.19 L128.47 192.70 L130.13 194.19 L131.79 195.66 L133.46 197.10 L135.12 198.52 L136.78 199.91 L138.45 201.28 L140.11 202.63 L141.77 203.95 L143.44 205.26 L145.10 206.54 L146.76 207.80 L148.43 209.05 L150.09 210.27 L151.75 211.48 L153.42 212.66 L155.08 213.83 L156.74 214.98 L158.41 216.11 L160.07 217.23 L161.73 218.33 L163.40 219.41 L165.06 220.47 L166.72 221.53 L168.39 222.56 L170.05 223.58 L171.71 224.59 L173.38 225.58 L175.04 226.56 L176.70 227.52 L178.37 228.47 L180.03 229.41 L181.69 230.34 L183.36 231.25 L185.02 232.15 L186.68 233.04 L188.35 233.92 L190.01 234.78 L191.67 235.64 L193.34 236.48 L195.00 237.31 L196.66 238.13 L198.33 238.94 L199.99 239.75 L201.65 240.54 L203.32 241.32 L204.98 242.09 L206.64 242.85 L208.31 243.60 L209.97 244.35 L211.63 245.08 L213.30 245.81 L214.96 246.53 L216.62 247.24 L218.29 247.94 L219.95 248.63 L221.61 249.31 L223.28 249.99 L224.94 250.66 L226.60 251.32 L228.27 251.98 L229.93 252.62 L231.59 253.26 L233.26 253.90 L234.92 254.52 L236.58 255.14 L238.25 255.76 L239.91 256.36 L241.57 256.96 L243.24 257.56 L244.90 258.14" fill="none" stroke="#D95319" stroke-width="1.15" stroke-dasharray="1.1 1.95"  stroke-linejoin="round" clip-path="url(#clipa)"/>
<path d="M45.30 25.90 L45.47 28.59 L45.63 30.96 L45.80 33.07 L45.97 34.95 L46.13 36.64 L46.30 38.16 L46.46 39.54 L46.63 40.80 L46.80 41.96 L46.96 43.03 L47.13 44.02 L47.30 44.95 L47.46 45.82 L47.63 46.64 L47.79 47.42 L47.96 48.16 L48.13 48.87 L48.29 49.55 L48.46 50.21 L48.63 50.85 L48.79 51.47 L48.96 52.07 L49.13 52.66 L49.29 53.24 L49.46 53.81 L49.62 54.37 L49.79 54.92 L49.96 55.46 L50.12 55.99 L50.29 56.52 L50.46 57.05 L50.62 57.57 L50.79 58.08 L50.96 58.59 L51.12 59.10 L51.29 59.60 L51.45 60.10 L51.62 60.60 L51.79 61.10 L51.95 61.59 L52.12 62.08 L52.29 62.56 L52.45 63.05 L52.62 63.53 L52.78 64.01 L52.95 64.49 L53.12 64.97 L53.28 65.45 L53.45 65.92 L53.62 66.39 L53.78 66.86 L53.95 67.33 L54.12 67.80 L54.28 68.26 L54.45 68.73 L54.61 69.19 L54.78 69.65 L54.95 70.11 L55.11 70.57 L55.28 71.03 L56.94 75.52 L58.61 79.89 L60.27 84.15 L61.93 88.30 L63.60 92.35 L65.26 96.31 L66.92 100.17 L68.59 103.95 L70.25 107.65 L71.91 111.26 L73.58 114.80 L75.24 118.26 L76.90 121.64 L78.57 124.96 L80.23 128.20 L81.89 131.38 L83.56 134.49 L85.22 137.54 L86.88 140.52 L88.55 143.45 L90.21 146.31 L91.87 149.11 L93.54 151.86 L95.20 154.55 L96.86 157.18 L98.53 159.77 L100.19 162.30 L101.85 164.78 L103.52 167.21 L105.18 169.59 L106.84 171.92 L108.51 174.21 L110.17 176.45 L111.83 178.65 L113.50 180.80 L115.16 182.91 L116.82 184.98 L118.49 187.01 L120.15 189.00 L121.81 190.95 L123.48 192.87 L125.14 194.74 L126.80 196.59 L128.47 198.39 L130.13 200.16 L131.79 201.90 L133.46 203.61 L135.12 205.28 L136.78 206.92 L138.45 208.53 L140.11 210.11 L141.77 211.66 L143.44 213.19 L145.10 214.68 L146.76 216.15 L148.43 217.59 L150.09 219.01 L151.75 220.40 L153.42 221.76 L155.08 223.10 L156.74 224.42 L158.41 225.72 L160.07 226.99 L161.73 228.24 L163.40 229.46 L165.06 230.67 L166.72 231.86 L168.39 233.02 L170.05 234.17 L171.71 235.29 L173.38 236.40 L175.04 237.49 L176.70 238.56 L178.37 239.62 L180.03 240.65 L181.69 241.67 L183.36 242.68 L185.02 243.66 L186.68 244.64 L188.35 245.59 L190.01 246.54 L191.67 247.46 L193.34 248.38 L195.00 249.28 L196.66 250.16 L198.33 251.04 L199.99 251.90 L201.65 252.74 L203.32 253.58 L204.98 254.40 L206.64 255.21 L208.31 256.01 L209.97 256.80 L211.63 257.58 L213.30 258.35 L214.96 259.11 L216.62 259.85 L218.29 260.59 L219.95 261.32 L221.61 262.04 L223.28 262.75 L224.94 263.45 L226.60 264.14 L228.27 264.82 L229.93 265.50 L231.59 266.16 L233.26 266.82 L234.92 267.47 L236.58 268.12 L238.25 268.75 L239.91 269.38 L241.57 270.00 L243.24 270.62 L244.90 271.23" fill="none" stroke="#EDB120" stroke-width="1.35"  stroke-linejoin="round" clip-path="url(#clipa)"/>
<path d="M308.50 288.75 L308.67 289.01 L308.83 289.23 L309.00 289.42 L309.17 289.57 L309.33 289.70 L309.50 289.81 L309.67 289.90 L309.83 289.98 L310.00 290.04 L310.17 290.09 L310.33 290.12 L310.50 290.15 L310.67 290.17 L310.83 290.18 L311.00 290.18 L311.17 290.18 L311.33 290.17 L311.50 290.16 L311.67 290.15 L311.83 290.13 L312.00 290.11 L312.17 290.08 L312.33 290.05 L312.50 290.02 L312.67 289.99 L312.83 289.95 L313.00 289.91 L313.17 289.87 L313.33 289.83 L313.50 289.79 L313.67 289.75 L313.83 289.70 L314.00 289.65 L314.17 289.60 L314.33 289.55 L314.50 289.50 L314.67 289.45 L314.83 289.40 L315.00 289.34 L315.17 289.29 L315.33 289.23 L315.50 289.18 L315.67 289.12 L315.83 289.06 L316.00 289.00 L316.17 288.94 L316.33 288.88 L316.50 288.81 L316.67 288.75 L316.83 288.69 L317.00 288.62 L317.17 288.56 L317.33 288.49 L317.50 288.42 L317.67 288.36 L317.83 288.29 L318.00 288.22 L318.17 288.15 L318.33 288.08 L318.50 288.01 L320.17 287.27 L321.83 286.48 L323.50 285.65 L325.17 284.78 L326.83 283.88 L328.50 282.95 L330.17 282.00 L331.83 281.02 L333.50 280.02 L335.17 279.00 L336.83 277.96 L338.50 276.90 L340.17 275.83 L341.83 274.74 L343.50 273.63 L345.17 272.50 L346.83 271.36 L348.50 270.20 L350.17 269.02 L351.83 267.83 L353.50 266.62 L355.17 265.39 L356.83 264.14 L358.50 262.88 L360.17 261.60 L361.83 260.30 L363.50 258.99 L365.17 257.65 L366.83 256.30 L368.50 254.93 L370.17 253.54 L371.83 252.13 L373.50 250.69 L375.17 249.24 L376.83 247.77 L378.50 246.28 L380.17 244.77 L381.83 243.23 L383.50 241.67 L385.17 240.09 L386.83 238.49 L388.50 236.87 L390.17 235.22 L391.83 233.55 L393.50 231.86 L395.17 230.14 L396.83 228.39 L398.50 226.62 L400.17 224.83 L401.83 223.01 L403.50 221.17 L405.17 219.29 L406.83 217.40 L408.50 215.47 L410.17 213.52 L411.83 211.54 L413.50 209.53 L415.17 207.50 L416.83 205.43 L418.50 203.34 L420.17 201.22 L421.83 199.07 L423.50 196.89 L425.17 194.68 L426.83 192.44 L428.50 190.17 L430.17 187.87 L431.83 185.55 L433.50 183.19 L435.17 180.80 L436.83 178.38 L438.50 175.93 L440.17 173.45 L441.83 170.94 L443.50 168.39 L445.17 165.82 L446.83 163.22 L448.50 160.59 L450.17 157.93 L451.83 155.24 L453.50 152.52 L455.17 149.77 L456.83 147.00 L458.50 144.19 L460.17 141.36 L461.83 138.50 L463.50 135.62 L465.17 132.71 L466.83 129.78 L468.50 126.82 L470.17 123.84 L471.83 120.84 L473.50 117.81 L475.17 114.77 L476.83 111.71 L478.50 108.63 L480.17 105.53 L481.83 102.42 L483.50 99.30 L485.17 96.17 L486.83 93.02 L488.50 89.87 L490.17 86.71 L491.83 83.55 L493.50 80.39 L495.17 77.22 L496.83 74.06 L498.50 70.90 L500.17 67.76 L501.83 64.62 L503.50 61.49 L505.17 58.38 L506.83 55.28 L508.50 52.21" fill="none" stroke="#0072BD" stroke-width="1.35"  stroke-linejoin="round" clip-path="url(#clipb)"/>
<path d="M308.50 288.75 L308.67 288.99 L308.83 289.19 L309.00 289.36 L309.17 289.50 L309.33 289.62 L309.50 289.71 L309.67 289.79 L309.83 289.85 L310.00 289.90 L310.17 289.94 L310.33 289.97 L310.50 289.98 L310.67 289.99 L310.83 290.00 L311.00 290.00 L311.17 289.99 L311.33 289.98 L311.50 289.97 L311.67 289.95 L311.83 289.93 L312.00 289.90 L312.17 289.88 L312.33 289.85 L312.50 289.82 L312.67 289.79 L312.83 289.75 L313.00 289.72 L313.17 289.68 L313.33 289.65 L313.50 289.61 L313.67 289.57 L313.83 289.53 L314.00 289.49 L314.17 289.44 L314.33 289.40 L314.50 289.36 L314.67 289.32 L314.83 289.27 L315.00 289.23 L315.17 289.18 L315.33 289.13 L315.50 289.09 L315.67 289.04 L315.83 288.99 L316.00 288.95 L316.17 288.90 L316.33 288.85 L316.50 288.80 L316.67 288.75 L316.83 288.70 L317.00 288.65 L317.17 288.60 L317.33 288.55 L317.50 288.50 L317.67 288.44 L317.83 288.39 L318.00 288.34 L318.17 288.29 L318.33 288.24 L318.50 288.18 L320.17 287.64 L321.83 287.07 L323.50 286.48 L325.17 285.88 L326.83 285.27 L328.50 284.64 L330.17 284.01 L331.83 283.37 L333.50 282.72 L335.17 282.06 L336.83 281.40 L338.50 280.73 L340.17 280.06 L341.83 279.38 L343.50 278.69 L345.17 278.00 L346.83 277.31 L348.50 276.61 L350.17 275.90 L351.83 275.20 L353.50 274.48 L355.17 273.76 L356.83 273.04 L358.50 272.31 L360.17 271.57 L361.83 270.83 L363.50 270.08 L365.17 269.33 L366.83 268.57 L368.50 267.80 L370.17 267.03 L371.83 266.26 L373.50 265.47 L375.17 264.68 L376.83 263.88 L378.50 263.08 L380.17 262.27 L381.83 261.45 L383.50 260.63 L385.17 259.79 L386.83 258.95 L388.50 258.11 L390.17 257.25 L391.83 256.39 L393.50 255.52 L395.17 254.64 L396.83 253.75 L398.50 252.86 L400.17 251.95 L401.83 251.04 L403.50 250.12 L405.17 249.19 L406.83 248.25 L408.50 247.31 L410.17 246.35 L411.83 245.39 L413.50 244.42 L415.17 243.44 L416.83 242.45 L418.50 241.45 L420.17 240.44 L421.83 239.42 L423.50 238.40 L425.17 237.37 L426.83 236.32 L428.50 235.27 L430.17 234.21 L431.83 233.15 L433.50 232.07 L435.17 230.99 L436.83 229.89 L438.50 228.79 L440.17 227.69 L441.83 226.57 L443.50 225.45 L445.17 224.32 L446.83 223.19 L448.50 222.05 L450.17 220.90 L451.83 219.75 L453.50 218.59 L455.17 217.43 L456.83 216.26 L458.50 215.09 L460.17 213.92 L461.83 212.74 L463.50 211.56 L465.17 210.38 L466.83 209.20 L468.50 208.02 L470.17 206.83 L471.83 205.65 L473.50 204.47 L475.17 203.30 L476.83 202.12 L478.50 200.95 L480.17 199.79 L481.83 198.63 L483.50 197.48 L485.17 196.33 L486.83 195.20 L488.50 194.07 L490.17 192.96 L491.83 191.85 L493.50 190.77 L495.17 189.69 L496.83 188.63 L498.50 187.59 L500.17 186.57 L501.83 185.56 L503.50 184.58 L505.17 183.62 L506.83 182.68 L508.50 181.77" fill="none" stroke="#D95319" stroke-width="1.50" stroke-dasharray="7.6 4.5" stroke-linejoin="round" clip-path="url(#clipb)"/>
<path d="M308.50 288.75 L308.67 288.99 L308.83 289.20 L309.00 289.38 L309.17 289.52 L309.33 289.64 L309.50 289.75 L309.67 289.83 L309.83 289.90 L310.00 289.96 L310.17 290.00 L310.33 290.04 L310.50 290.06 L310.67 290.08 L310.83 290.09 L311.00 290.10 L311.17 290.10 L311.33 290.10 L311.50 290.10 L311.67 290.09 L311.83 290.08 L312.00 290.07 L312.17 290.05 L312.33 290.03 L312.50 290.01 L312.67 289.99 L312.83 289.97 L313.00 289.95 L313.17 289.92 L313.33 289.90 L313.50 289.87 L313.67 289.85 L313.83 289.82 L314.00 289.79 L314.17 289.76 L314.33 289.73 L314.50 289.70 L314.67 289.67 L314.83 289.64 L315.00 289.61 L315.17 289.58 L315.33 289.55 L315.50 289.52 L315.67 289.48 L315.83 289.45 L316.00 289.42 L316.17 289.38 L316.33 289.35 L316.50 289.32 L316.67 289.28 L316.83 289.25 L317.00 289.21 L317.17 289.18 L317.33 289.14 L317.50 289.11 L317.67 289.07 L317.83 289.04 L318.00 289.00 L318.17 288.97 L318.33 288.93 L318.50 288.89 L320.17 288.52 L321.83 288.14 L323.50 287.75 L325.17 287.35 L326.83 286.94 L328.50 286.53 L330.17 286.12 L331.83 285.70 L333.50 285.28 L335.17 284.86 L336.83 284.44 L338.50 284.02 L340.17 283.60 L341.83 283.18 L343.50 282.75 L345.17 282.33 L346.83 281.91 L348.50 281.48 L350.17 281.06 L351.83 280.64 L353.50 280.21 L355.17 279.79 L356.83 279.36 L358.50 278.94 L360.17 278.51 L361.83 278.08 L363.50 277.66 L365.17 277.23 L366.83 276.80 L368.50 276.38 L370.17 275.95 L371.83 275.52 L373.50 275.09 L375.17 274.66 L376.83 274.23 L378.50 273.80 L380.17 273.36 L381.83 272.93 L383.50 272.50 L385.17 272.06 L386.83 271.62 L388.50 271.19 L390.17 270.75 L391.83 270.31 L393.50 269.87 L395.17 269.43 L396.83 268.98 L398.50 268.54 L400.17 268.09 L401.83 267.64 L403.50 267.20 L405.17 266.75 L406.83 266.29 L408.50 265.84 L410.17 265.39 L411.83 264.93 L413.50 264.48 L415.17 264.02 L416.83 263.56 L418.50 263.10 L420.17 262.64 L421.83 262.17 L423.50 261.71 L425.17 261.24 L426.83 260.78 L428.50 260.31 L430.17 259.84 L431.83 259.37 L433.50 258.90 L435.17 258.42 L436.83 257.95 L438.50 257.48 L440.17 257.00 L441.83 256.53 L443.50 256.05 L445.17 255.58 L446.83 255.10 L448.50 254.62 L450.17 254.15 L451.83 253.67 L453.50 253.19 L455.17 252.72 L456.83 252.24 L458.50 251.76 L460.17 251.29 L461.83 250.82 L463.50 250.34 L465.17 249.87 L466.83 249.40 L468.50 248.94 L470.17 248.47 L471.83 248.01 L473.50 247.55 L475.17 247.09 L476.83 246.63 L478.50 246.18 L480.17 245.73 L481.83 245.28 L483.50 244.84 L485.17 244.41 L486.83 243.97 L488.50 243.54 L490.17 243.12 L491.83 242.71 L493.50 242.29 L495.17 241.89 L496.83 241.49 L498.50 241.10 L500.17 240.72 L501.83 240.34 L503.50 239.97 L505.17 239.61 L506.83 239.26 L508.50 238.92" fill="none" stroke="#EDB120" stroke-width="1.15" stroke-dasharray="1.1 1.95"  stroke-linejoin="round" clip-path="url(#clipb)"/>
<path d="M308.50 288.75 L308.67 289.02 L308.83 289.25 L309.00 289.45 L309.17 289.62 L309.33 289.76 L309.50 289.89 L309.67 289.99 L309.83 290.08 L310.00 290.16 L310.17 290.23 L310.33 290.29 L310.50 290.34 L310.67 290.38 L310.83 290.41 L311.00 290.44 L311.17 290.47 L311.33 290.49 L311.50 290.50 L311.67 290.52 L311.83 290.53 L312.00 290.54 L312.17 290.54 L312.33 290.55 L312.50 290.55 L312.67 290.55 L312.83 290.55 L313.00 290.55 L313.17 290.54 L313.33 290.54 L313.50 290.53 L313.67 290.53 L313.83 290.52 L314.00 290.52 L314.17 290.51 L314.33 290.50 L314.50 290.49 L314.67 290.48 L314.83 290.47 L315.00 290.46 L315.17 290.45 L315.33 290.44 L315.50 290.43 L315.67 290.42 L315.83 290.41 L316.00 290.39 L316.17 290.38 L316.33 290.37 L316.50 290.36 L316.67 290.34 L316.83 290.33 L317.00 290.32 L317.17 290.30 L317.33 290.29 L317.50 290.27 L317.67 290.26 L317.83 290.24 L318.00 290.23 L318.17 290.21 L318.33 290.20 L318.50 290.18 L320.17 290.02 L321.83 289.84 L323.50 289.65 L325.17 289.46 L326.83 289.26 L328.50 289.05 L330.17 288.84 L331.83 288.63 L333.50 288.42 L335.17 288.21 L336.83 287.99 L338.50 287.78 L340.17 287.56 L341.83 287.35 L343.50 287.14 L345.17 286.93 L346.83 286.71 L348.50 286.50 L350.17 286.29 L351.83 286.08 L353.50 285.87 L355.17 285.66 L356.83 285.46 L358.50 285.25 L360.17 285.04 L361.83 284.84 L363.50 284.64 L365.17 284.43 L366.83 284.23 L368.50 284.03 L370.17 283.83 L371.83 283.63 L373.50 283.43 L375.17 283.24 L376.83 283.04 L378.50 282.85 L380.17 282.65 L381.83 282.46 L383.50 282.26 L385.17 282.07 L386.83 281.88 L388.50 281.69 L390.17 281.50 L391.83 281.31 L393.50 281.13 L395.17 280.94 L396.83 280.75 L398.50 280.57 L400.17 280.38 L401.83 280.20 L403.50 280.02 L405.17 279.84 L406.83 279.66 L408.50 279.47 L410.17 279.30 L411.83 279.12 L413.50 278.94 L415.17 278.76 L416.83 278.58 L418.50 278.41 L420.17 278.23 L421.83 278.06 L423.50 277.88 L425.17 277.71 L426.83 277.54 L428.50 277.37 L430.17 277.19 L431.83 277.02 L433.50 276.85 L435.17 276.68 L436.83 276.51 L438.50 276.35 L440.17 276.18 L441.83 276.01 L443.50 275.84 L445.17 275.68 L446.83 275.51 L448.50 275.35 L450.17 275.18 L451.83 275.02 L453.50 274.85 L455.17 274.69 L456.83 274.53 L458.50 274.36 L460.17 274.20 L461.83 274.04 L463.50 273.88 L465.17 273.72 L466.83 273.56 L468.50 273.40 L470.17 273.24 L471.83 273.08 L473.50 272.92 L475.17 272.76 L476.83 272.60 L478.50 272.45 L480.17 272.29 L481.83 272.13 L483.50 271.98 L485.17 271.82 L486.83 271.66 L488.50 271.51 L490.17 271.35 L491.83 271.19 L493.50 271.04 L495.17 270.88 L496.83 270.73 L498.50 270.58 L500.17 270.42 L501.83 270.27 L503.50 270.11 L505.17 269.96 L506.83 269.81 L508.50 269.65" fill="none" stroke="#7E2F8E" stroke-width="1.35"  stroke-linejoin="round" clip-path="url(#clipb)"/>
<path d="M308.50 288.75 L308.67 289.02 L308.83 289.25 L309.00 289.45 L309.17 289.62 L309.33 289.76 L309.50 289.89 L309.67 290.00 L309.83 290.09 L310.00 290.17 L310.17 290.24 L310.33 290.31 L310.50 290.36 L310.67 290.40 L310.83 290.44 L311.00 290.48 L311.17 290.51 L311.33 290.54 L311.50 290.56 L311.67 290.58 L311.83 290.60 L312.00 290.61 L312.17 290.63 L312.33 290.64 L312.50 290.65 L312.67 290.66 L312.83 290.67 L313.00 290.68 L313.17 290.68 L313.33 290.69 L313.50 290.69 L313.67 290.70 L313.83 290.70 L314.00 290.71 L314.17 290.71 L314.33 290.71 L314.50 290.72 L314.67 290.72 L314.83 290.72 L315.00 290.72 L315.17 290.72 L315.33 290.73 L315.50 290.73 L315.67 290.73 L315.83 290.73 L316.00 290.73 L316.17 290.73 L316.33 290.73 L316.50 290.73 L316.67 290.73 L316.83 290.73 L317.00 290.73 L317.17 290.73 L317.33 290.73 L317.50 290.73 L317.67 290.73 L317.83 290.73 L318.00 290.73 L318.17 290.73 L318.33 290.73 L318.50 290.73 L320.17 290.72 L321.83 290.71 L323.50 290.69 L325.17 290.67 L326.83 290.65 L328.50 290.63 L330.17 290.60 L331.83 290.58 L333.50 290.55 L335.17 290.53 L336.83 290.50 L338.50 290.47 L340.17 290.44 L341.83 290.41 L343.50 290.38 L345.17 290.35 L346.83 290.33 L348.50 290.30 L350.17 290.27 L351.83 290.24 L353.50 290.21 L355.17 290.18 L356.83 290.15 L358.50 290.12 L360.17 290.09 L361.83 290.06 L363.50 290.04 L365.17 290.01 L366.83 289.98 L368.50 289.95 L370.17 289.92 L371.83 289.89 L373.50 289.86 L375.17 289.84 L376.83 289.81 L378.50 289.78 L380.17 289.75 L381.83 289.73 L383.50 289.70 L385.17 289.67 L386.83 289.65 L388.50 289.62 L390.17 289.59 L391.83 289.57 L393.50 289.54 L395.17 289.52 L396.83 289.49 L398.50 289.46 L400.17 289.44 L401.83 289.42 L403.50 289.39 L405.17 289.37 L406.83 289.34 L408.50 289.32 L410.17 289.30 L411.83 289.27 L413.50 289.25 L415.17 289.23 L416.83 289.21 L418.50 289.18 L420.17 289.16 L421.83 289.14 L423.50 289.12 L425.17 289.10 L426.83 289.08 L428.50 289.06 L430.17 289.04 L431.83 289.02 L433.50 289.00 L435.17 288.98 L436.83 288.96 L438.50 288.95 L440.17 288.93 L441.83 288.91 L443.50 288.89 L445.17 288.88 L446.83 288.86 L448.50 288.85 L450.17 288.83 L451.83 288.81 L453.50 288.80 L455.17 288.79 L456.83 288.77 L458.50 288.76 L460.17 288.74 L461.83 288.73 L463.50 288.72 L465.17 288.71 L466.83 288.70 L468.50 288.68 L470.17 288.67 L471.83 288.66 L473.50 288.65 L475.17 288.64 L476.83 288.63 L478.50 288.62 L480.17 288.62 L481.83 288.61 L483.50 288.60 L485.17 288.59 L486.83 288.58 L488.50 288.58 L490.17 288.57 L491.83 288.57 L493.50 288.56 L495.17 288.55 L496.83 288.55 L498.50 288.55 L500.17 288.54 L501.83 288.54 L503.50 288.53 L505.17 288.53 L506.83 288.53 L508.50 288.53" fill="none" stroke="#77AC30" stroke-width="1.50" stroke-dasharray="7.6 4.5" stroke-linejoin="round" clip-path="url(#clipb)"/>
<path d="M308.50 288.75 L308.67 289.02 L308.83 289.25 L309.00 289.45 L309.17 289.63 L309.33 289.78 L309.50 289.91 L309.67 290.02 L309.83 290.12 L310.00 290.20 L310.17 290.28 L310.33 290.34 L310.50 290.40 L310.67 290.46 L310.83 290.50 L311.00 290.54 L311.17 290.58 L311.33 290.61 L311.50 290.65 L311.67 290.67 L311.83 290.70 L312.00 290.72 L312.17 290.75 L312.33 290.77 L312.50 290.79 L312.67 290.80 L312.83 290.82 L313.00 290.84 L313.17 290.86 L313.33 290.87 L313.50 290.89 L313.67 290.90 L313.83 290.92 L314.00 290.93 L314.17 290.95 L314.33 290.96 L314.50 290.97 L314.67 290.99 L314.83 291.00 L315.00 291.02 L315.17 291.03 L315.33 291.04 L315.50 291.06 L315.67 291.07 L315.83 291.08 L316.00 291.10 L316.17 291.11 L316.33 291.12 L316.50 291.14 L316.67 291.15 L316.83 291.16 L317.00 291.18 L317.17 291.19 L317.33 291.20 L317.50 291.22 L317.67 291.23 L317.83 291.24 L318.00 291.26 L318.17 291.27 L318.33 291.28 L318.50 291.30 L320.17 291.43 L321.83 291.56 L323.50 291.70 L325.17 291.83 L326.83 291.96 L328.50 292.09 L330.17 292.21 L331.83 292.34 L333.50 292.46 L335.17 292.58 L336.83 292.70 L338.50 292.82 L340.17 292.93 L341.83 293.04 L343.50 293.15 L345.17 293.26 L346.83 293.36 L348.50 293.47 L350.17 293.57 L351.83 293.67 L353.50 293.77 L355.17 293.87 L356.83 293.96 L358.50 294.06 L360.17 294.15 L361.83 294.25 L363.50 294.34 L365.17 294.43 L366.83 294.52 L368.50 294.61 L370.17 294.70 L371.83 294.79 L373.50 294.87 L375.17 294.96 L376.83 295.04 L378.50 295.13 L380.17 295.21 L381.83 295.30 L383.50 295.38 L385.17 295.47 L386.83 295.55 L388.50 295.63 L390.17 295.71 L391.83 295.80 L393.50 295.88 L395.17 295.96 L396.83 296.04 L398.50 296.12 L400.17 296.20 L401.83 296.28 L403.50 296.36 L405.17 296.45 L406.83 296.53 L408.50 296.61 L410.17 296.69 L411.83 296.77 L413.50 296.85 L415.17 296.92 L416.83 297.00 L418.50 297.08 L420.17 297.16 L421.83 297.24 L423.50 297.32 L425.17 297.40 L426.83 297.48 L428.50 297.55 L430.17 297.63 L431.83 297.71 L433.50 297.79 L435.17 297.86 L436.83 297.94 L438.50 298.01 L440.17 298.09 L441.83 298.16 L443.50 298.24 L445.17 298.31 L446.83 298.38 L448.50 298.45 L450.17 298.53 L451.83 298.60 L453.50 298.67 L455.17 298.74 L456.83 298.80 L458.50 298.87 L460.17 298.94 L461.83 299.00 L463.50 299.07 L465.17 299.13 L466.83 299.19 L468.50 299.25 L470.17 299.31 L471.83 299.37 L473.50 299.42 L475.17 299.48 L476.83 299.53 L478.50 299.58 L480.17 299.63 L481.83 299.68 L483.50 299.73 L485.17 299.77 L486.83 299.81 L488.50 299.85 L490.17 299.89 L491.83 299.93 L493.50 299.96 L495.17 299.99 L496.83 300.02 L498.50 300.05 L500.17 300.07 L501.83 300.09 L503.50 300.11 L505.17 300.12 L506.83 300.13 L508.50 300.14" fill="none" stroke="#4DBEEE" stroke-width="1.15" stroke-dasharray="1.1 1.95"  stroke-linejoin="round" clip-path="url(#clipb)"/>
<path d="M308.50 288.75 L308.67 289.04 L308.83 289.30 L309.00 289.52 L309.17 289.72 L309.33 289.89 L309.50 290.04 L309.67 290.17 L309.83 290.29 L310.00 290.40 L310.17 290.49 L310.33 290.58 L310.50 290.66 L310.67 290.73 L310.83 290.79 L311.00 290.85 L311.17 290.91 L311.33 290.96 L311.50 291.00 L311.67 291.05 L311.83 291.09 L312.00 291.13 L312.17 291.17 L312.33 291.21 L312.50 291.24 L312.67 291.27 L312.83 291.31 L313.00 291.34 L313.17 291.37 L313.33 291.40 L313.50 291.43 L313.67 291.46 L313.83 291.49 L314.00 291.52 L314.17 291.54 L314.33 291.57 L314.50 291.60 L314.67 291.62 L314.83 291.65 L315.00 291.68 L315.17 291.70 L315.33 291.73 L315.50 291.75 L315.67 291.78 L315.83 291.80 L316.00 291.83 L316.17 291.86 L316.33 291.88 L316.50 291.90 L316.67 291.93 L316.83 291.95 L317.00 291.98 L317.17 292.00 L317.33 292.03 L317.50 292.05 L317.67 292.08 L317.83 292.10 L318.00 292.12 L318.17 292.15 L318.33 292.17 L318.50 292.19 L320.17 292.43 L321.83 292.66 L323.50 292.88 L325.17 293.10 L326.83 293.32 L328.50 293.54 L330.17 293.75 L331.83 293.96 L333.50 294.17 L335.17 294.38 L336.83 294.59 L338.50 294.79 L340.17 295.00 L341.83 295.20 L343.50 295.41 L345.17 295.61 L346.83 295.81 L348.50 296.00 L350.17 296.20 L351.83 296.40 L353.50 296.59 L355.17 296.78 L356.83 296.97 L358.50 297.16 L360.17 297.35 L361.83 297.54 L363.50 297.72 L365.17 297.90 L366.83 298.09 L368.50 298.27 L370.17 298.44 L371.83 298.62 L373.50 298.80 L375.17 298.97 L376.83 299.14 L378.50 299.31 L380.17 299.48 L381.83 299.65 L383.50 299.81 L385.17 299.98 L386.83 300.14 L388.50 300.30 L390.17 300.46 L391.83 300.61 L393.50 300.77 L395.17 300.92 L396.83 301.07 L398.50 301.22 L400.17 301.37 L401.83 301.52 L403.50 301.66 L405.17 301.81 L406.83 301.95 L408.50 302.09 L410.17 302.22 L411.83 302.36 L413.50 302.50 L415.17 302.63 L416.83 302.76 L418.50 302.89 L420.17 303.02 L421.83 303.15 L423.50 303.27 L425.17 303.39 L426.83 303.52 L428.50 303.64 L430.17 303.75 L431.83 303.87 L433.50 303.99 L435.17 304.10 L436.83 304.21 L438.50 304.33 L440.17 304.44 L441.83 304.54 L443.50 304.65 L445.17 304.76 L446.83 304.86 L448.50 304.96 L450.17 305.06 L451.83 305.16 L453.50 305.26 L455.17 305.36 L456.83 305.46 L458.50 305.55 L460.17 305.65 L461.83 305.74 L463.50 305.83 L465.17 305.92 L466.83 306.01 L468.50 306.10 L470.17 306.18 L471.83 306.27 L473.50 306.35 L475.17 306.43 L476.83 306.52 L478.50 306.60 L480.17 306.68 L481.83 306.76 L483.50 306.84 L485.17 306.91 L486.83 306.99 L488.50 307.06 L490.17 307.14 L491.83 307.21 L493.50 307.28 L495.17 307.36 L496.83 307.43 L498.50 307.50 L500.17 307.57 L501.83 307.64 L503.50 307.70 L505.17 307.77 L506.83 307.84 L508.50 307.91" fill="none" stroke="#A2142F" stroke-width="1.35"  stroke-linejoin="round" clip-path="url(#clipb)"/>
<path d="M308.50 288.75 L308.67 289.05 L308.83 289.31 L309.00 289.53 L309.17 289.73 L309.33 289.91 L309.50 290.06 L309.67 290.20 L309.83 290.33 L310.00 290.44 L310.17 290.54 L310.33 290.63 L310.50 290.72 L310.67 290.80 L310.83 290.87 L311.00 290.94 L311.17 291.00 L311.33 291.06 L311.50 291.12 L311.67 291.17 L311.83 291.22 L312.00 291.27 L312.17 291.32 L312.33 291.37 L312.50 291.41 L312.67 291.46 L312.83 291.50 L313.00 291.54 L313.17 291.59 L313.33 291.63 L313.50 291.67 L313.67 291.71 L313.83 291.75 L314.00 291.79 L314.17 291.83 L314.33 291.87 L314.50 291.91 L314.67 291.95 L314.83 291.99 L315.00 292.03 L315.17 292.07 L315.33 292.11 L315.50 292.15 L315.67 292.18 L315.83 292.22 L316.00 292.26 L316.17 292.30 L316.33 292.34 L316.50 292.38 L316.67 292.42 L316.83 292.45 L317.00 292.49 L317.17 292.53 L317.33 292.57 L317.50 292.61 L317.67 292.65 L317.83 292.68 L318.00 292.72 L318.17 292.76 L318.33 292.80 L318.50 292.84 L320.17 293.22 L321.83 293.59 L323.50 293.96 L325.17 294.33 L326.83 294.68 L328.50 295.04 L330.17 295.38 L331.83 295.72 L333.50 296.05 L335.17 296.38 L336.83 296.69 L338.50 297.01 L340.17 297.31 L341.83 297.61 L343.50 297.91 L345.17 298.20 L346.83 298.48 L348.50 298.76 L350.17 299.03 L351.83 299.30 L353.50 299.57 L355.17 299.82 L356.83 300.08 L358.50 300.33 L360.17 300.58 L361.83 300.82 L363.50 301.06 L365.17 301.29 L366.83 301.52 L368.50 301.75 L370.17 301.97 L371.83 302.19 L373.50 302.41 L375.17 302.62 L376.83 302.84 L378.50 303.04 L380.17 303.25 L381.83 303.45 L383.50 303.65 L385.17 303.85 L386.83 304.04 L388.50 304.24 L390.17 304.43 L391.83 304.61 L393.50 304.80 L395.17 304.98 L396.83 305.16 L398.50 305.34 L400.17 305.52 L401.83 305.69 L403.50 305.86 L405.17 306.03 L406.83 306.20 L408.50 306.37 L410.17 306.53 L411.83 306.70 L413.50 306.86 L415.17 307.02 L416.83 307.17 L418.50 307.33 L420.17 307.48 L421.83 307.63 L423.50 307.78 L425.17 307.93 L426.83 308.08 L428.50 308.22 L430.17 308.37 L431.83 308.51 L433.50 308.65 L435.17 308.79 L436.83 308.92 L438.50 309.06 L440.17 309.19 L441.83 309.32 L443.50 309.45 L445.17 309.58 L446.83 309.71 L448.50 309.83 L450.17 309.96 L451.83 310.08 L453.50 310.20 L455.17 310.32 L456.83 310.44 L458.50 310.55 L460.17 310.66 L461.83 310.78 L463.50 310.89 L465.17 310.99 L466.83 311.10 L468.50 311.21 L470.17 311.31 L471.83 311.41 L473.50 311.51 L475.17 311.61 L476.83 311.70 L478.50 311.80 L480.17 311.89 L481.83 311.98 L483.50 312.07 L485.17 312.15 L486.83 312.24 L488.50 312.32 L490.17 312.40 L491.83 312.48 L493.50 312.56 L495.17 312.63 L496.83 312.70 L498.50 312.77 L500.17 312.84 L501.83 312.91 L503.50 312.97 L505.17 313.04 L506.83 313.09 L508.50 313.15" fill="none" stroke="#0072BD" stroke-width="1.50" stroke-dasharray="7.6 4.5" stroke-linejoin="round" clip-path="url(#clipb)"/>
<path d="M308.50 288.75 L308.67 289.06 L308.83 289.32 L309.00 289.56 L309.17 289.76 L309.33 289.95 L309.50 290.11 L309.67 290.26 L309.83 290.39 L310.00 290.51 L310.17 290.62 L310.33 290.72 L310.50 290.82 L310.67 290.90 L310.83 290.98 L311.00 291.06 L311.17 291.13 L311.33 291.20 L311.50 291.26 L311.67 291.33 L311.83 291.39 L312.00 291.45 L312.17 291.50 L312.33 291.56 L312.50 291.61 L312.67 291.67 L312.83 291.72 L313.00 291.77 L313.17 291.82 L313.33 291.87 L313.50 291.92 L313.67 291.97 L313.83 292.02 L314.00 292.07 L314.17 292.12 L314.33 292.17 L314.50 292.22 L314.67 292.27 L314.83 292.32 L315.00 292.36 L315.17 292.41 L315.33 292.46 L315.50 292.51 L315.67 292.56 L315.83 292.61 L316.00 292.65 L316.17 292.70 L316.33 292.75 L316.50 292.80 L316.67 292.85 L316.83 292.89 L317.00 292.94 L317.17 292.99 L317.33 293.04 L317.50 293.09 L317.67 293.13 L317.83 293.18 L318.00 293.23 L318.17 293.28 L318.33 293.32 L318.50 293.37 L320.17 293.85 L321.83 294.31 L323.50 294.78 L325.17 295.23 L326.83 295.68 L328.50 296.12 L330.17 296.55 L331.83 296.98 L333.50 297.39 L335.17 297.80 L336.83 298.20 L338.50 298.59 L340.17 298.98 L341.83 299.35 L343.50 299.72 L345.17 300.08 L346.83 300.43 L348.50 300.78 L350.17 301.12 L351.83 301.45 L353.50 301.77 L355.17 302.09 L356.83 302.40 L358.50 302.71 L360.17 303.01 L361.83 303.30 L363.50 303.59 L365.17 303.87 L366.83 304.15 L368.50 304.42 L370.17 304.69 L371.83 304.95 L373.50 305.21 L375.17 305.46 L376.83 305.71 L378.50 305.95 L380.17 306.19 L381.83 306.42 L383.50 306.65 L385.17 306.88 L386.83 307.10 L388.50 307.32 L390.17 307.53 L391.83 307.74 L393.50 307.95 L395.17 308.16 L396.83 308.36 L398.50 308.55 L400.17 308.75 L401.83 308.94 L403.50 309.12 L405.17 309.31 L406.83 309.49 L408.50 309.67 L410.17 309.84 L411.83 310.01 L413.50 310.18 L415.17 310.35 L416.83 310.52 L418.50 310.68 L420.17 310.84 L421.83 311.00 L423.50 311.15 L425.17 311.30 L426.83 311.45 L428.50 311.60 L430.17 311.75 L431.83 311.89 L433.50 312.03 L435.17 312.17 L436.83 312.31 L438.50 312.45 L440.17 312.58 L441.83 312.71 L443.50 312.84 L445.17 312.97 L446.83 313.10 L448.50 313.22 L450.17 313.35 L451.83 313.47 L453.50 313.59 L455.17 313.71 L456.83 313.82 L458.50 313.94 L460.17 314.05 L461.83 314.17 L463.50 314.28 L465.17 314.39 L466.83 314.50 L468.50 314.60 L470.17 314.71 L471.83 314.81 L473.50 314.92 L475.17 315.02 L476.83 315.12 L478.50 315.22 L480.17 315.32 L481.83 315.42 L483.50 315.51 L485.17 315.61 L486.83 315.70 L488.50 315.79 L490.17 315.89 L491.83 315.98 L493.50 316.07 L495.17 316.16 L496.83 316.24 L498.50 316.33 L500.17 316.42 L501.83 316.50 L503.50 316.59 L505.17 316.67 L506.83 316.75 L508.50 316.83" fill="none" stroke="#D95319" stroke-width="1.15" stroke-dasharray="1.1 1.95"  stroke-linejoin="round" clip-path="url(#clipb)"/>
<path d="M308.50 288.75 L308.67 289.09 L308.83 289.38 L309.00 289.65 L309.17 289.88 L309.33 290.09 L309.50 290.28 L309.67 290.46 L309.83 290.61 L310.00 290.76 L310.17 290.89 L310.33 291.02 L310.50 291.13 L310.67 291.24 L310.83 291.34 L311.00 291.44 L311.17 291.53 L311.33 291.62 L311.50 291.71 L311.67 291.79 L311.83 291.87 L312.00 291.95 L312.17 292.02 L312.33 292.10 L312.50 292.17 L312.67 292.24 L312.83 292.31 L313.00 292.38 L313.17 292.44 L313.33 292.51 L313.50 292.58 L313.67 292.64 L313.83 292.71 L314.00 292.77 L314.17 292.84 L314.33 292.90 L314.50 292.96 L314.67 293.03 L314.83 293.09 L315.00 293.15 L315.17 293.21 L315.33 293.27 L315.50 293.33 L315.67 293.39 L315.83 293.45 L316.00 293.51 L316.17 293.57 L316.33 293.63 L316.50 293.69 L316.67 293.75 L316.83 293.81 L317.00 293.87 L317.17 293.93 L317.33 293.99 L317.50 294.05 L317.67 294.10 L317.83 294.16 L318.00 294.22 L318.17 294.28 L318.33 294.33 L318.50 294.39 L320.17 294.95 L321.83 295.50 L323.50 296.03 L325.17 296.55 L326.83 297.06 L328.50 297.55 L330.17 298.03 L331.83 298.51 L333.50 298.97 L335.17 299.42 L336.83 299.86 L338.50 300.29 L340.17 300.72 L341.83 301.13 L343.50 301.54 L345.17 301.94 L346.83 302.32 L348.50 302.71 L350.17 303.08 L351.83 303.44 L353.50 303.80 L355.17 304.15 L356.83 304.49 L358.50 304.83 L360.17 305.16 L361.83 305.48 L363.50 305.80 L365.17 306.11 L366.83 306.41 L368.50 306.71 L370.17 307.00 L371.83 307.29 L373.50 307.57 L375.17 307.84 L376.83 308.11 L378.50 308.38 L380.17 308.64 L381.83 308.89 L383.50 309.14 L385.17 309.38 L386.83 309.62 L388.50 309.86 L390.17 310.09 L391.83 310.31 L393.50 310.53 L395.17 310.75 L396.83 310.96 L398.50 311.17 L400.17 311.38 L401.83 311.58 L403.50 311.78 L405.17 311.97 L406.83 312.16 L408.50 312.35 L410.17 312.53 L411.83 312.71 L413.50 312.89 L415.17 313.06 L416.83 313.23 L418.50 313.40 L420.17 313.57 L421.83 313.73 L423.50 313.89 L425.17 314.04 L426.83 314.20 L428.50 314.35 L430.17 314.49 L431.83 314.64 L433.50 314.78 L435.17 314.92 L436.83 315.06 L438.50 315.20 L440.17 315.33 L441.83 315.46 L443.50 315.59 L445.17 315.72 L446.83 315.85 L448.50 315.97 L450.17 316.09 L451.83 316.21 L453.50 316.33 L455.17 316.45 L456.83 316.56 L458.50 316.67 L460.17 316.78 L461.83 316.89 L463.50 317.00 L465.17 317.11 L466.83 317.21 L468.50 317.31 L470.17 317.41 L471.83 317.51 L473.50 317.61 L475.17 317.71 L476.83 317.81 L478.50 317.90 L480.17 317.99 L481.83 318.09 L483.50 318.18 L485.17 318.27 L486.83 318.36 L488.50 318.44 L490.17 318.53 L491.83 318.62 L493.50 318.70 L495.17 318.78 L496.83 318.87 L498.50 318.95 L500.17 319.03 L501.83 319.11 L503.50 319.19 L505.17 319.26 L506.83 319.34 L508.50 319.42" fill="none" stroke="#EDB120" stroke-width="1.35"  stroke-linejoin="round" clip-path="url(#clipb)"/>
<path d="M571.80 55.94 L571.97 56.01 L572.13 56.07 L572.30 56.13 L572.47 56.19 L572.63 56.25 L572.80 56.32 L572.97 56.39 L573.13 56.47 L573.30 56.56 L573.47 56.65 L573.63 56.75 L573.80 56.86 L573.97 56.98 L574.13 57.11 L574.30 57.24 L574.47 57.39 L574.63 57.54 L574.80 57.70 L574.97 57.87 L575.13 58.04 L575.30 58.22 L575.47 58.41 L575.63 58.61 L575.80 58.81 L575.97 59.02 L576.13 59.24 L576.30 59.46 L576.47 59.69 L576.63 59.92 L576.80 60.16 L576.97 60.40 L577.13 60.64 L577.30 60.89 L577.47 61.15 L577.63 61.41 L577.80 61.67 L577.97 61.94 L578.13 62.20 L578.30 62.48 L578.47 62.75 L578.63 63.03 L578.80 63.31 L578.97 63.59 L579.13 63.87 L579.30 64.16 L579.47 64.45 L579.63 64.74 L579.80 65.03 L579.97 65.32 L580.13 65.62 L580.30 65.91 L580.47 66.21 L580.63 66.51 L580.80 66.81 L580.97 67.11 L581.13 67.41 L581.30 67.71 L581.47 68.01 L581.63 68.32 L581.80 68.62 L583.47 71.67 L585.13 74.72 L586.80 77.72 L588.47 80.68 L590.13 83.56 L591.80 86.38 L593.47 89.12 L595.13 91.78 L596.80 94.36 L598.47 96.86 L600.13 99.29 L601.80 101.64 L603.47 103.92 L605.13 106.11 L606.80 108.24 L608.47 110.29 L610.13 112.27 L611.80 114.18 L613.47 116.02 L615.13 117.79 L616.80 119.49 L618.47 121.12 L620.13 122.69 L621.80 124.19 L623.47 125.62 L625.13 126.99 L626.80 128.30 L628.47 129.55 L630.13 130.73 L631.80 131.85 L633.47 132.91 L635.13 133.91 L636.80 134.86 L638.47 135.74 L640.13 136.57 L641.80 137.34 L643.47 138.06 L645.13 138.72 L646.80 139.32 L648.47 139.88 L650.13 140.37 L651.80 140.82 L653.47 141.21 L655.13 141.56 L656.80 141.85 L658.47 142.09 L660.13 142.28 L661.80 142.43 L663.47 142.52 L665.13 142.57 L666.80 142.57 L668.47 142.52 L670.13 142.43 L671.80 142.29 L673.47 142.10 L675.13 141.87 L676.80 141.60 L678.47 141.29 L680.13 140.93 L681.80 140.52 L683.47 140.08 L685.13 139.59 L686.80 139.07 L688.47 138.50 L690.13 137.89 L691.80 137.24 L693.47 136.55 L695.13 135.83 L696.80 135.06 L698.47 134.26 L700.13 133.42 L701.80 132.54 L703.47 131.63 L705.13 130.68 L706.80 129.69 L708.47 128.67 L710.13 127.61 L711.80 126.52 L713.47 125.40 L715.13 124.24 L716.80 123.04 L718.47 121.82 L720.13 120.56 L721.80 119.27 L723.47 117.95 L725.13 116.60 L726.80 115.22 L728.47 113.80 L730.13 112.36 L731.80 110.89 L733.47 109.39 L735.13 107.86 L736.80 106.30 L738.47 104.71 L740.13 103.10 L741.80 101.46 L743.47 99.79 L745.13 98.10 L746.80 96.38 L748.47 94.63 L750.13 92.87 L751.80 91.07 L753.47 89.26 L755.13 87.42 L756.80 85.55 L758.47 83.67 L760.13 81.76 L761.80 79.83 L763.47 77.89 L765.13 75.92 L766.80 73.93 L768.47 71.92 L770.13 69.89 L771.80 67.85" fill="none" stroke="#0072BD" stroke-width="1.35"  stroke-linejoin="round" clip-path="url(#clipc)"/>
<path d="M571.80 55.94 L571.97 56.15 L572.13 56.32 L572.30 56.47 L572.47 56.58 L572.63 56.68 L572.80 56.77 L572.97 56.84 L573.13 56.90 L573.30 56.96 L573.47 57.01 L573.63 57.06 L573.80 57.11 L573.97 57.17 L574.13 57.22 L574.30 57.27 L574.47 57.33 L574.63 57.39 L574.80 57.46 L574.97 57.53 L575.13 57.60 L575.30 57.68 L575.47 57.76 L575.63 57.85 L575.80 57.94 L575.97 58.03 L576.13 58.13 L576.30 58.23 L576.47 58.34 L576.63 58.45 L576.80 58.57 L576.97 58.68 L577.13 58.81 L577.30 58.93 L577.47 59.06 L577.63 59.19 L577.80 59.33 L577.97 59.46 L578.13 59.60 L578.30 59.74 L578.47 59.89 L578.63 60.04 L578.80 60.18 L578.97 60.33 L579.13 60.49 L579.30 60.64 L579.47 60.80 L579.63 60.96 L579.80 61.12 L579.97 61.28 L580.13 61.44 L580.30 61.60 L580.47 61.76 L580.63 61.93 L580.80 62.09 L580.97 62.26 L581.13 62.43 L581.30 62.60 L581.47 62.77 L581.63 62.94 L581.80 63.11 L583.47 64.82 L585.13 66.55 L586.80 68.25 L588.47 69.92 L590.13 71.55 L591.80 73.12 L593.47 74.64 L595.13 76.10 L596.80 77.51 L598.47 78.86 L600.13 80.16 L601.80 81.40 L603.47 82.59 L605.13 83.72 L606.80 84.80 L608.47 85.83 L610.13 86.81 L611.80 87.74 L613.47 88.61 L615.13 89.44 L616.80 90.22 L618.47 90.95 L620.13 91.63 L621.80 92.27 L623.47 92.87 L625.13 93.41 L626.80 93.92 L628.47 94.38 L630.13 94.80 L631.80 95.17 L633.47 95.51 L635.13 95.81 L636.80 96.06 L638.47 96.28 L640.13 96.46 L641.80 96.61 L643.47 96.71 L645.13 96.78 L646.80 96.82 L648.47 96.82 L650.13 96.79 L651.80 96.73 L653.47 96.63 L655.13 96.50 L656.80 96.34 L658.47 96.15 L660.13 95.93 L661.80 95.69 L663.47 95.41 L665.13 95.11 L666.80 94.78 L668.47 94.42 L670.13 94.04 L671.80 93.63 L673.47 93.20 L675.13 92.74 L676.80 92.26 L678.47 91.76 L680.13 91.24 L681.80 90.69 L683.47 90.13 L685.13 89.54 L686.80 88.93 L688.47 88.30 L690.13 87.66 L691.80 86.99 L693.47 86.31 L695.13 85.61 L696.80 84.89 L698.47 84.16 L700.13 83.41 L701.80 82.64 L703.47 81.86 L705.13 81.06 L706.80 80.25 L708.47 79.42 L710.13 78.58 L711.80 77.72 L713.47 76.85 L715.13 75.97 L716.80 75.08 L718.47 74.17 L720.13 73.25 L721.80 72.32 L723.47 71.38 L725.13 70.42 L726.80 69.45 L728.47 68.48 L730.13 67.49 L731.80 66.48 L733.47 65.47 L735.13 64.45 L736.80 63.42 L738.47 62.37 L740.13 61.32 L741.80 60.25 L743.47 59.17 L745.13 58.09 L746.80 56.99 L748.47 55.88 L750.13 54.76 L751.80 53.63 L753.47 52.49 L755.13 51.33 L756.80 50.17 L758.47 48.99 L760.13 47.80 L761.80 46.60 L763.47 45.39 L765.13 44.17 L766.80 42.93 L768.47 41.68 L770.13 40.42 L771.80 39.14" fill="none" stroke="#D95319" stroke-width="1.50" stroke-dasharray="7.6 4.5" stroke-linejoin="round" clip-path="url(#clipc)"/>
<path d="M571.80 55.94 L571.97 56.53 L572.13 57.04 L572.30 57.48 L572.47 57.85 L572.63 58.18 L572.80 58.46 L572.97 58.70 L573.13 58.91 L573.30 59.10 L573.47 59.26 L573.63 59.40 L573.80 59.52 L573.97 59.63 L574.13 59.73 L574.30 59.82 L574.47 59.90 L574.63 59.97 L574.80 60.04 L574.97 60.10 L575.13 60.16 L575.30 60.22 L575.47 60.27 L575.63 60.32 L575.80 60.37 L575.97 60.41 L576.13 60.46 L576.30 60.50 L576.47 60.55 L576.63 60.59 L576.80 60.63 L576.97 60.68 L577.13 60.72 L577.30 60.77 L577.47 60.81 L577.63 60.85 L577.80 60.90 L577.97 60.94 L578.13 60.99 L578.30 61.03 L578.47 61.08 L578.63 61.12 L578.80 61.17 L578.97 61.21 L579.13 61.26 L579.30 61.31 L579.47 61.35 L579.63 61.40 L579.80 61.45 L579.97 61.50 L580.13 61.54 L580.30 61.59 L580.47 61.64 L580.63 61.69 L580.80 61.74 L580.97 61.79 L581.13 61.83 L581.30 61.88 L581.47 61.93 L581.63 61.98 L581.80 62.03 L583.47 62.53 L585.13 63.03 L586.80 63.52 L588.47 64.01 L590.13 64.48 L591.80 64.94 L593.47 65.38 L595.13 65.81 L596.80 66.23 L598.47 66.63 L600.13 67.01 L601.80 67.37 L603.47 67.72 L605.13 68.06 L606.80 68.37 L608.47 68.67 L610.13 68.96 L611.80 69.22 L613.47 69.47 L615.13 69.71 L616.80 69.93 L618.47 70.13 L620.13 70.31 L621.80 70.48 L623.47 70.63 L625.13 70.77 L626.80 70.89 L628.47 70.99 L630.13 71.08 L631.80 71.15 L633.47 71.20 L635.13 71.24 L636.80 71.26 L638.47 71.27 L640.13 71.26 L641.80 71.24 L643.47 71.20 L645.13 71.14 L646.80 71.07 L648.47 70.99 L650.13 70.89 L651.80 70.77 L653.47 70.65 L655.13 70.50 L656.80 70.35 L658.47 70.18 L660.13 70.00 L661.80 69.80 L663.47 69.59 L665.13 69.37 L666.80 69.13 L668.47 68.88 L670.13 68.62 L671.80 68.35 L673.47 68.06 L675.13 67.77 L676.80 67.46 L678.47 67.14 L680.13 66.81 L681.80 66.47 L683.47 66.12 L685.13 65.76 L686.80 65.39 L688.47 65.01 L690.13 64.62 L691.80 64.22 L693.47 63.81 L695.13 63.39 L696.80 62.97 L698.47 62.53 L700.13 62.09 L701.80 61.64 L703.47 61.19 L705.13 60.72 L706.80 60.25 L708.47 59.78 L710.13 59.30 L711.80 58.81 L713.47 58.31 L715.13 57.81 L716.80 57.31 L718.47 56.80 L720.13 56.29 L721.80 55.77 L723.47 55.24 L725.13 54.72 L726.80 54.19 L728.47 53.66 L730.13 53.12 L731.80 52.58 L733.47 52.04 L735.13 51.50 L736.80 50.95 L738.47 50.40 L740.13 49.86 L741.80 49.31 L743.47 48.75 L745.13 48.20 L746.80 47.65 L748.47 47.10 L750.13 46.54 L751.80 45.99 L753.47 45.44 L755.13 44.89 L756.80 44.34 L758.47 43.79 L760.13 43.24 L761.80 42.69 L763.47 42.14 L765.13 41.60 L766.80 41.06 L768.47 40.52 L770.13 39.98 L771.80 39.44" fill="none" stroke="#EDB120" stroke-width="1.15" stroke-dasharray="1.1 1.95"  stroke-linejoin="round" clip-path="url(#clipc)"/>
<path d="M571.80 55.94 L571.97 56.56 L572.13 57.07 L572.30 57.50 L572.47 57.85 L572.63 58.14 L572.80 58.37 L572.97 58.55 L573.13 58.70 L573.30 58.81 L573.47 58.90 L573.63 58.97 L573.80 59.01 L573.97 59.04 L574.13 59.06 L574.30 59.06 L574.47 59.06 L574.63 59.05 L574.80 59.04 L574.97 59.02 L575.13 59.00 L575.30 58.98 L575.47 58.95 L575.63 58.92 L575.80 58.90 L575.97 58.87 L576.13 58.84 L576.30 58.82 L576.47 58.79 L576.63 58.77 L576.80 58.74 L576.97 58.72 L577.13 58.70 L577.30 58.68 L577.47 58.66 L577.63 58.64 L577.80 58.63 L577.97 58.61 L578.13 58.60 L578.30 58.59 L578.47 58.58 L578.63 58.57 L578.80 58.56 L578.97 58.55 L579.13 58.54 L579.30 58.54 L579.47 58.53 L579.63 58.53 L579.80 58.53 L579.97 58.53 L580.13 58.52 L580.30 58.52 L580.47 58.53 L580.63 58.53 L580.80 58.53 L580.97 58.53 L581.13 58.53 L581.30 58.54 L581.47 58.54 L581.63 58.55 L581.80 58.55 L583.47 58.62 L585.13 58.72 L586.80 58.82 L588.47 58.92 L590.13 59.01 L591.80 59.10 L593.47 59.18 L595.13 59.24 L596.80 59.30 L598.47 59.35 L600.13 59.38 L601.80 59.41 L603.47 59.42 L605.13 59.43 L606.80 59.43 L608.47 59.42 L610.13 59.40 L611.80 59.38 L613.47 59.35 L615.13 59.31 L616.80 59.27 L618.47 59.22 L620.13 59.17 L621.80 59.11 L623.47 59.05 L625.13 58.98 L626.80 58.91 L628.47 58.83 L630.13 58.75 L631.80 58.67 L633.47 58.58 L635.13 58.50 L636.80 58.40 L638.47 58.31 L640.13 58.21 L641.80 58.11 L643.47 58.01 L645.13 57.91 L646.80 57.80 L648.47 57.70 L650.13 57.59 L651.80 57.48 L653.47 57.36 L655.13 57.25 L656.80 57.13 L658.47 57.02 L660.13 56.90 L661.80 56.78 L663.47 56.65 L665.13 56.53 L666.80 56.40 L668.47 56.28 L670.13 56.15 L671.80 56.02 L673.47 55.89 L675.13 55.75 L676.80 55.62 L678.47 55.48 L680.13 55.34 L681.80 55.20 L683.47 55.06 L685.13 54.92 L686.80 54.77 L688.47 54.63 L690.13 54.48 L691.80 54.33 L693.47 54.17 L695.13 54.02 L696.80 53.86 L698.47 53.70 L700.13 53.54 L701.80 53.38 L703.47 53.21 L705.13 53.04 L706.80 52.87 L708.47 52.70 L710.13 52.53 L711.80 52.35 L713.47 52.17 L715.13 51.99 L716.80 51.81 L718.47 51.63 L720.13 51.44 L721.80 51.25 L723.47 51.06 L725.13 50.87 L726.80 50.67 L728.47 50.48 L730.13 50.28 L731.80 50.08 L733.47 49.88 L735.13 49.68 L736.80 49.48 L738.47 49.28 L740.13 49.08 L741.80 48.87 L743.47 48.67 L745.13 48.46 L746.80 48.26 L748.47 48.06 L750.13 47.85 L751.80 47.65 L753.47 47.45 L755.13 47.25 L756.80 47.06 L758.47 46.86 L760.13 46.67 L761.80 46.48 L763.47 46.29 L765.13 46.11 L766.80 45.94 L768.47 45.76 L770.13 45.60 L771.80 45.44" fill="none" stroke="#7E2F8E" stroke-width="1.35"  stroke-linejoin="round" clip-path="url(#clipc)"/>
<path d="M571.80 55.94 L571.97 56.69 L572.13 57.30 L572.30 57.80 L572.47 58.22 L572.63 58.55 L572.80 58.81 L572.97 59.01 L573.13 59.17 L573.30 59.29 L573.47 59.38 L573.63 59.43 L573.80 59.46 L573.97 59.48 L574.13 59.48 L574.30 59.46 L574.47 59.44 L574.63 59.40 L574.80 59.36 L574.97 59.32 L575.13 59.27 L575.30 59.22 L575.47 59.17 L575.63 59.11 L575.80 59.06 L575.97 59.00 L576.13 58.95 L576.30 58.90 L576.47 58.84 L576.63 58.79 L576.80 58.74 L576.97 58.70 L577.13 58.65 L577.30 58.61 L577.47 58.56 L577.63 58.52 L577.80 58.49 L577.97 58.45 L578.13 58.41 L578.30 58.38 L578.47 58.35 L578.63 58.32 L578.80 58.29 L578.97 58.26 L579.13 58.23 L579.30 58.21 L579.47 58.19 L579.63 58.16 L579.80 58.14 L579.97 58.12 L580.13 58.10 L580.30 58.09 L580.47 58.07 L580.63 58.06 L580.80 58.04 L580.97 58.03 L581.13 58.01 L581.30 58.00 L581.47 57.99 L581.63 57.98 L581.80 57.97 L583.47 57.90 L585.13 57.86 L586.80 57.84 L588.47 57.82 L590.13 57.79 L591.80 57.76 L593.47 57.73 L595.13 57.68 L596.80 57.63 L598.47 57.56 L600.13 57.49 L601.80 57.41 L603.47 57.32 L605.13 57.23 L606.80 57.13 L608.47 57.02 L610.13 56.91 L611.80 56.79 L613.47 56.67 L615.13 56.55 L616.80 56.42 L618.47 56.29 L620.13 56.15 L621.80 56.02 L623.47 55.88 L625.13 55.74 L626.80 55.60 L628.47 55.46 L630.13 55.32 L631.80 55.18 L633.47 55.04 L635.13 54.90 L636.80 54.76 L638.47 54.62 L640.13 54.49 L641.80 54.35 L643.47 54.21 L645.13 54.08 L646.80 53.95 L648.47 53.81 L650.13 53.68 L651.80 53.56 L653.47 53.43 L655.13 53.31 L656.80 53.18 L658.47 53.06 L660.13 52.94 L661.80 52.83 L663.47 52.71 L665.13 52.60 L666.80 52.48 L668.47 52.37 L670.13 52.27 L671.80 52.16 L673.47 52.05 L675.13 51.95 L676.80 51.85 L678.47 51.75 L680.13 51.65 L681.80 51.55 L683.47 51.45 L685.13 51.36 L686.80 51.26 L688.47 51.17 L690.13 51.07 L691.80 50.98 L693.47 50.89 L695.13 50.80 L696.80 50.71 L698.47 50.62 L700.13 50.53 L701.80 50.43 L703.47 50.34 L705.13 50.25 L706.80 50.16 L708.47 50.07 L710.13 49.98 L711.80 49.89 L713.47 49.80 L715.13 49.71 L716.80 49.62 L718.47 49.53 L720.13 49.44 L721.80 49.34 L723.47 49.25 L725.13 49.16 L726.80 49.06 L728.47 48.97 L730.13 48.88 L731.80 48.78 L733.47 48.69 L735.13 48.60 L736.80 48.50 L738.47 48.41 L740.13 48.32 L741.80 48.22 L743.47 48.13 L745.13 48.04 L746.80 47.95 L748.47 47.86 L750.13 47.77 L751.80 47.69 L753.47 47.61 L755.13 47.53 L756.80 47.45 L758.47 47.37 L760.13 47.30 L761.80 47.23 L763.47 47.17 L765.13 47.11 L766.80 47.06 L768.47 47.01 L770.13 46.97 L771.80 46.93" fill="none" stroke="#77AC30" stroke-width="1.50" stroke-dasharray="7.6 4.5" stroke-linejoin="round" clip-path="url(#clipc)"/>
<path d="M571.80 55.94 L571.97 56.97 L572.13 57.84 L572.30 58.56 L572.47 59.17 L572.63 59.68 L572.80 60.10 L572.97 60.45 L573.13 60.74 L573.30 60.97 L573.47 61.16 L573.63 61.31 L573.80 61.43 L573.97 61.52 L574.13 61.59 L574.30 61.65 L574.47 61.68 L574.63 61.71 L574.80 61.72 L574.97 61.73 L575.13 61.72 L575.30 61.72 L575.47 61.70 L575.63 61.69 L575.80 61.67 L575.97 61.65 L576.13 61.63 L576.30 61.61 L576.47 61.59 L576.63 61.56 L576.80 61.54 L576.97 61.52 L577.13 61.50 L577.30 61.48 L577.47 61.46 L577.63 61.44 L577.80 61.42 L577.97 61.41 L578.13 61.39 L578.30 61.38 L578.47 61.37 L578.63 61.35 L578.80 61.34 L578.97 61.33 L579.13 61.32 L579.30 61.31 L579.47 61.31 L579.63 61.30 L579.80 61.30 L579.97 61.29 L580.13 61.29 L580.30 61.28 L580.47 61.28 L580.63 61.28 L580.80 61.28 L580.97 61.28 L581.13 61.28 L581.30 61.28 L581.47 61.28 L581.63 61.28 L581.80 61.29 L583.47 61.33 L585.13 61.39 L586.80 61.46 L588.47 61.53 L590.13 61.59 L591.80 61.65 L593.47 61.69 L595.13 61.71 L596.80 61.73 L598.47 61.73 L600.13 61.73 L601.80 61.71 L603.47 61.68 L605.13 61.64 L606.80 61.59 L608.47 61.53 L610.13 61.46 L611.80 61.39 L613.47 61.30 L615.13 61.21 L616.80 61.11 L618.47 61.01 L620.13 60.90 L621.80 60.78 L623.47 60.65 L625.13 60.53 L626.80 60.39 L628.47 60.25 L630.13 60.11 L631.80 59.97 L633.47 59.82 L635.13 59.66 L636.80 59.51 L638.47 59.35 L640.13 59.18 L641.80 59.02 L643.47 58.85 L645.13 58.68 L646.80 58.51 L648.47 58.33 L650.13 58.16 L651.80 57.98 L653.47 57.80 L655.13 57.62 L656.80 57.44 L658.47 57.25 L660.13 57.07 L661.80 56.88 L663.47 56.70 L665.13 56.51 L666.80 56.32 L668.47 56.13 L670.13 55.95 L671.80 55.76 L673.47 55.56 L675.13 55.37 L676.80 55.18 L678.47 54.99 L680.13 54.80 L681.80 54.60 L683.47 54.41 L685.13 54.21 L686.80 54.02 L688.47 53.82 L690.13 53.63 L691.80 53.43 L693.47 53.24 L695.13 53.04 L696.80 52.84 L698.47 52.64 L700.13 52.44 L701.80 52.24 L703.47 52.05 L705.13 51.85 L706.80 51.64 L708.47 51.44 L710.13 51.24 L711.80 51.04 L713.47 50.84 L715.13 50.63 L716.80 50.43 L718.47 50.23 L720.13 50.02 L721.80 49.82 L723.47 49.61 L725.13 49.41 L726.80 49.20 L728.47 49.00 L730.13 48.79 L731.80 48.59 L733.47 48.38 L735.13 48.18 L736.80 47.97 L738.47 47.76 L740.13 47.56 L741.80 47.35 L743.47 47.15 L745.13 46.95 L746.80 46.75 L748.47 46.54 L750.13 46.34 L751.80 46.14 L753.47 45.95 L755.13 45.75 L756.80 45.56 L758.47 45.37 L760.13 45.18 L761.80 44.99 L763.47 44.81 L765.13 44.62 L766.80 44.45 L768.47 44.27 L770.13 44.10 L771.80 43.94" fill="none" stroke="#4DBEEE" stroke-width="1.15" stroke-dasharray="1.1 1.95"  stroke-linejoin="round" clip-path="url(#clipc)"/>
<path d="M571.80 55.94 L571.97 57.37 L572.13 58.61 L572.30 59.67 L572.47 60.58 L572.63 61.36 L572.80 62.04 L572.97 62.62 L573.13 63.12 L573.30 63.56 L573.47 63.93 L573.63 64.25 L573.80 64.53 L573.97 64.78 L574.13 64.99 L574.30 65.17 L574.47 65.33 L574.63 65.47 L574.80 65.59 L574.97 65.70 L575.13 65.80 L575.30 65.88 L575.47 65.96 L575.63 66.03 L575.80 66.09 L575.97 66.15 L576.13 66.20 L576.30 66.25 L576.47 66.30 L576.63 66.34 L576.80 66.38 L576.97 66.42 L577.13 66.46 L577.30 66.49 L577.47 66.53 L577.63 66.56 L577.80 66.60 L577.97 66.63 L578.13 66.66 L578.30 66.70 L578.47 66.73 L578.63 66.76 L578.80 66.79 L578.97 66.83 L579.13 66.86 L579.30 66.89 L579.47 66.92 L579.63 66.95 L579.80 66.99 L579.97 67.02 L580.13 67.05 L580.30 67.09 L580.47 67.12 L580.63 67.15 L580.80 67.19 L580.97 67.22 L581.13 67.25 L581.30 67.29 L581.47 67.32 L581.63 67.35 L581.80 67.39 L583.47 67.73 L585.13 68.08 L586.80 68.43 L588.47 68.78 L590.13 69.12 L591.80 69.45 L593.47 69.77 L595.13 70.08 L596.80 70.38 L598.47 70.66 L600.13 70.93 L601.80 71.19 L603.47 71.43 L605.13 71.65 L606.80 71.86 L608.47 72.05 L610.13 72.22 L611.80 72.38 L613.47 72.51 L615.13 72.63 L616.80 72.73 L618.47 72.81 L620.13 72.87 L621.80 72.91 L623.47 72.94 L625.13 72.94 L626.80 72.92 L628.47 72.89 L630.13 72.84 L631.80 72.76 L633.47 72.67 L635.13 72.56 L636.80 72.43 L638.47 72.28 L640.13 72.12 L641.80 71.93 L643.47 71.73 L645.13 71.51 L646.80 71.28 L648.47 71.02 L650.13 70.76 L651.80 70.47 L653.47 70.17 L655.13 69.86 L656.80 69.53 L658.47 69.19 L660.13 68.83 L661.80 68.47 L663.47 68.09 L665.13 67.69 L666.80 67.29 L668.47 66.87 L670.13 66.45 L671.80 66.01 L673.47 65.57 L675.13 65.12 L676.80 64.66 L678.47 64.19 L680.13 63.71 L681.80 63.23 L683.47 62.74 L685.13 62.25 L686.80 61.75 L688.47 61.24 L690.13 60.74 L691.80 60.22 L693.47 59.71 L695.13 59.19 L696.80 58.67 L698.47 58.15 L700.13 57.63 L701.80 57.11 L703.47 56.58 L705.13 56.06 L706.80 55.54 L708.47 55.01 L710.13 54.49 L711.80 53.97 L713.47 53.45 L715.13 52.93 L716.80 52.41 L718.47 51.89 L720.13 51.38 L721.80 50.86 L723.47 50.35 L725.13 49.84 L726.80 49.34 L728.47 48.83 L730.13 48.33 L731.80 47.82 L733.47 47.32 L735.13 46.82 L736.80 46.32 L738.47 45.82 L740.13 45.32 L741.80 44.82 L743.47 44.32 L745.13 43.82 L746.80 43.32 L748.47 42.81 L750.13 42.30 L751.80 41.79 L753.47 41.27 L755.13 40.74 L756.80 40.21 L758.47 39.67 L760.13 39.12 L761.80 38.57 L763.47 38.00 L765.13 37.42 L766.80 36.82 L768.47 36.22 L770.13 35.59 L771.80 34.95" fill="none" stroke="#A2142F" stroke-width="1.35"  stroke-linejoin="round" clip-path="url(#clipc)"/>
<path d="M571.80 55.94 L571.97 57.48 L572.13 58.81 L572.30 59.95 L572.47 60.93 L572.63 61.78 L572.80 62.51 L572.97 63.14 L573.13 63.70 L573.30 64.18 L573.47 64.60 L573.63 64.97 L573.80 65.30 L573.97 65.59 L574.13 65.85 L574.30 66.09 L574.47 66.30 L574.63 66.50 L574.80 66.69 L574.97 66.86 L575.13 67.02 L575.30 67.18 L575.47 67.33 L575.63 67.47 L575.80 67.61 L575.97 67.75 L576.13 67.88 L576.30 68.02 L576.47 68.15 L576.63 68.28 L576.80 68.41 L576.97 68.55 L577.13 68.68 L577.30 68.81 L577.47 68.95 L577.63 69.08 L577.80 69.22 L577.97 69.35 L578.13 69.49 L578.30 69.63 L578.47 69.77 L578.63 69.91 L578.80 70.05 L578.97 70.19 L579.13 70.33 L579.30 70.48 L579.47 70.62 L579.63 70.77 L579.80 70.91 L579.97 71.06 L580.13 71.20 L580.30 71.35 L580.47 71.50 L580.63 71.65 L580.80 71.80 L580.97 71.95 L581.13 72.09 L581.30 72.24 L581.47 72.39 L581.63 72.54 L581.80 72.69 L583.47 74.19 L585.13 75.67 L586.80 77.10 L588.47 78.49 L590.13 79.82 L591.80 81.09 L593.47 82.30 L595.13 83.45 L596.80 84.54 L598.47 85.58 L600.13 86.56 L601.80 87.49 L603.47 88.36 L605.13 89.18 L606.80 89.95 L608.47 90.68 L610.13 91.35 L611.80 91.98 L613.47 92.57 L615.13 93.11 L616.80 93.61 L618.47 94.07 L620.13 94.49 L621.80 94.87 L623.47 95.22 L625.13 95.52 L626.80 95.79 L628.47 96.03 L630.13 96.23 L631.80 96.39 L633.47 96.52 L635.13 96.62 L636.80 96.68 L638.47 96.72 L640.13 96.72 L641.80 96.69 L643.47 96.63 L645.13 96.54 L646.80 96.42 L648.47 96.28 L650.13 96.10 L651.80 95.89 L653.47 95.66 L655.13 95.40 L656.80 95.10 L658.47 94.79 L660.13 94.44 L661.80 94.07 L663.47 93.67 L665.13 93.24 L666.80 92.79 L668.47 92.31 L670.13 91.80 L671.80 91.27 L673.47 90.71 L675.13 90.12 L676.80 89.51 L678.47 88.88 L680.13 88.22 L681.80 87.53 L683.47 86.82 L685.13 86.08 L686.80 85.32 L688.47 84.54 L690.13 83.73 L691.80 82.90 L693.47 82.04 L695.13 81.17 L696.80 80.27 L698.47 79.35 L700.13 78.40 L701.80 77.44 L703.47 76.45 L705.13 75.45 L706.80 74.42 L708.47 73.38 L710.13 72.31 L711.80 71.23 L713.47 70.14 L715.13 69.02 L716.80 67.90 L718.47 66.75 L720.13 65.60 L721.80 64.43 L723.47 63.25 L725.13 62.06 L726.80 60.86 L728.47 59.65 L730.13 58.43 L731.80 57.21 L733.47 55.99 L735.13 54.76 L736.80 53.53 L738.47 52.30 L740.13 51.08 L741.80 49.86 L743.47 48.64 L745.13 47.43 L746.80 46.23 L748.47 45.04 L750.13 43.87 L751.80 42.71 L753.47 41.57 L755.13 40.45 L756.80 39.36 L758.47 38.29 L760.13 37.25 L761.80 36.24 L763.47 35.26 L765.13 34.32 L766.80 33.42 L768.47 32.57 L770.13 31.76 L771.80 31.00" fill="none" stroke="#0072BD" stroke-width="1.50" stroke-dasharray="7.6 4.5" stroke-linejoin="round" clip-path="url(#clipc)"/>
<path d="M571.80 55.94 L571.97 57.96 L572.13 59.73 L572.30 61.29 L572.47 62.66 L572.63 63.87 L572.80 64.94 L572.97 65.90 L573.13 66.76 L573.30 67.53 L573.47 68.23 L573.63 68.87 L573.80 69.45 L573.97 69.99 L574.13 70.49 L574.30 70.96 L574.47 71.40 L574.63 71.82 L574.80 72.22 L574.97 72.60 L575.13 72.97 L575.30 73.32 L575.47 73.67 L575.63 74.00 L575.80 74.33 L575.97 74.65 L576.13 74.97 L576.30 75.28 L576.47 75.59 L576.63 75.90 L576.80 76.21 L576.97 76.51 L577.13 76.81 L577.30 77.11 L577.47 77.41 L577.63 77.71 L577.80 78.00 L577.97 78.30 L578.13 78.60 L578.30 78.89 L578.47 79.19 L578.63 79.48 L578.80 79.78 L578.97 80.07 L579.13 80.36 L579.30 80.66 L579.47 80.95 L579.63 81.24 L579.80 81.54 L579.97 81.83 L580.13 82.12 L580.30 82.41 L580.47 82.70 L580.63 83.00 L580.80 83.29 L580.97 83.58 L581.13 83.87 L581.30 84.15 L581.47 84.44 L581.63 84.73 L581.80 85.02 L583.47 87.86 L585.13 90.63 L586.80 93.31 L588.47 95.90 L590.13 98.41 L591.80 100.82 L593.47 103.15 L595.13 105.38 L596.80 107.53 L598.47 109.60 L600.13 111.59 L601.80 113.50 L603.47 115.33 L605.13 117.09 L606.80 118.78 L608.47 120.39 L610.13 121.94 L611.80 123.43 L613.47 124.85 L615.13 126.20 L616.80 127.50 L618.47 128.73 L620.13 129.91 L621.80 131.03 L623.47 132.10 L625.13 133.11 L626.80 134.06 L628.47 134.97 L630.13 135.82 L631.80 136.62 L633.47 137.37 L635.13 138.07 L636.80 138.72 L638.47 139.32 L640.13 139.88 L641.80 140.39 L643.47 140.85 L645.13 141.26 L646.80 141.63 L648.47 141.95 L650.13 142.23 L651.80 142.46 L653.47 142.64 L655.13 142.78 L656.80 142.87 L658.47 142.92 L660.13 142.92 L661.80 142.88 L663.47 142.79 L665.13 142.66 L666.80 142.48 L668.47 142.25 L670.13 141.99 L671.80 141.67 L673.47 141.31 L675.13 140.91 L676.80 140.46 L678.47 139.96 L680.13 139.42 L681.80 138.83 L683.47 138.20 L685.13 137.52 L686.80 136.80 L688.47 136.03 L690.13 135.22 L691.80 134.36 L693.47 133.46 L695.13 132.52 L696.80 131.53 L698.47 130.49 L700.13 129.42 L701.80 128.30 L703.47 127.14 L705.13 125.93 L706.80 124.69 L708.47 123.40 L710.13 122.08 L711.80 120.71 L713.47 119.31 L715.13 117.87 L716.80 116.40 L718.47 114.89 L720.13 113.34 L721.80 111.76 L723.47 110.15 L725.13 108.51 L726.80 106.85 L728.47 105.15 L730.13 103.43 L731.80 101.69 L733.47 99.92 L735.13 98.14 L736.80 96.34 L738.47 94.52 L740.13 92.69 L741.80 90.85 L743.47 89.00 L745.13 87.15 L746.80 85.29 L748.47 83.44 L750.13 81.59 L751.80 79.74 L753.47 77.91 L755.13 76.09 L756.80 74.29 L758.47 72.51 L760.13 70.75 L761.80 69.03 L763.47 67.33 L765.13 65.68 L766.80 64.07 L768.47 62.51 L770.13 61.00 L771.80 59.54" fill="none" stroke="#D95319" stroke-width="1.15" stroke-dasharray="1.1 1.95"  stroke-linejoin="round" clip-path="url(#clipc)"/>
<path d="M571.80 55.94 L571.97 58.63 L572.13 61.00 L572.30 63.11 L572.47 64.99 L572.63 66.68 L572.80 68.20 L572.97 69.58 L573.13 70.84 L573.30 72.00 L573.47 73.07 L573.63 74.06 L573.80 74.99 L573.97 75.86 L574.13 76.68 L574.30 77.46 L574.47 78.20 L574.63 78.91 L574.80 79.59 L574.97 80.25 L575.13 80.89 L575.30 81.51 L575.47 82.11 L575.63 82.70 L575.80 83.28 L575.97 83.85 L576.13 84.41 L576.30 84.96 L576.47 85.50 L576.63 86.03 L576.80 86.56 L576.97 87.09 L577.13 87.61 L577.30 88.12 L577.47 88.63 L577.63 89.14 L577.80 89.64 L577.97 90.14 L578.13 90.64 L578.30 91.14 L578.47 91.63 L578.63 92.12 L578.80 92.60 L578.97 93.09 L579.13 93.57 L579.30 94.05 L579.47 94.53 L579.63 95.01 L579.80 95.49 L579.97 95.96 L580.13 96.43 L580.30 96.90 L580.47 97.37 L580.63 97.84 L580.80 98.30 L580.97 98.77 L581.13 99.23 L581.30 99.69 L581.47 100.15 L581.63 100.61 L581.80 101.07 L583.47 105.56 L585.13 109.93 L586.80 114.19 L588.47 118.34 L590.13 122.39 L591.80 126.35 L593.47 130.21 L595.13 133.99 L596.80 137.69 L598.47 141.30 L600.13 144.84 L601.80 148.30 L603.47 151.68 L605.13 155.00 L606.80 158.24 L608.47 161.42 L610.13 164.53 L611.80 167.58 L613.47 170.56 L615.13 173.49 L616.80 176.35 L618.47 179.15 L620.13 181.90 L621.80 184.59 L623.47 187.22 L625.13 189.81 L626.80 192.34 L628.47 194.82 L630.13 197.25 L631.80 199.63 L633.47 201.96 L635.13 204.25 L636.80 206.49 L638.47 208.69 L640.13 210.84 L641.80 212.95 L643.47 215.02 L645.13 217.05 L646.80 219.04 L648.47 220.99 L650.13 222.91 L651.80 224.78 L653.47 226.63 L655.13 228.43 L656.80 230.20 L658.47 231.94 L660.13 233.65 L661.80 235.32 L663.47 236.96 L665.13 238.57 L666.80 240.15 L668.47 241.70 L670.13 243.23 L671.80 244.72 L673.47 246.19 L675.13 247.63 L676.80 249.05 L678.47 250.44 L680.13 251.80 L681.80 253.14 L683.47 254.46 L685.13 255.76 L686.80 257.03 L688.47 258.28 L690.13 259.50 L691.80 260.71 L693.47 261.90 L695.13 263.06 L696.80 264.21 L698.47 265.33 L700.13 266.44 L701.80 267.53 L703.47 268.60 L705.13 269.66 L706.80 270.69 L708.47 271.71 L710.13 272.72 L711.80 273.70 L713.47 274.68 L715.13 275.63 L716.80 276.58 L718.47 277.50 L720.13 278.42 L721.80 279.32 L723.47 280.20 L725.13 281.08 L726.80 281.94 L728.47 282.78 L730.13 283.62 L731.80 284.44 L733.47 285.25 L735.13 286.05 L736.80 286.84 L738.47 287.62 L740.13 288.39 L741.80 289.15 L743.47 289.89 L745.13 290.63 L746.80 291.36 L748.47 292.08 L750.13 292.79 L751.80 293.49 L753.47 294.18 L755.13 294.86 L756.80 295.54 L758.47 296.20 L760.13 296.86 L761.80 297.51 L763.47 298.16 L765.13 298.79 L766.80 299.42 L768.47 300.04 L770.13 300.66 L771.80 301.27" fill="none" stroke="#EDB120" stroke-width="1.35"  stroke-linejoin="round" clip-path="url(#clipc)"/>
<line x1="111.83" y1="326.30" x2="111.83" y2="324.10" stroke="#6a6a6a" stroke-width="1"/>
<line x1="111.83" y1="25.90" x2="111.83" y2="28.10" stroke="#6a6a6a" stroke-width="1"/>
<line x1="178.37" y1="326.30" x2="178.37" y2="324.10" stroke="#6a6a6a" stroke-width="1"/>
<line x1="178.37" y1="25.90" x2="178.37" y2="28.10" stroke="#6a6a6a" stroke-width="1"/>
<line x1="45.30" y1="296.26" x2="47.50" y2="296.26" stroke="#6a6a6a" stroke-width="1"/>
<line x1="244.90" y1="296.26" x2="242.70" y2="296.26" stroke="#6a6a6a" stroke-width="1"/>
<line x1="45.30" y1="266.22" x2="47.50" y2="266.22" stroke="#6a6a6a" stroke-width="1"/>
<line x1="244.90" y1="266.22" x2="242.70" y2="266.22" stroke="#6a6a6a" stroke-width="1"/>
<line x1="45.30" y1="236.18" x2="47.50" y2="236.18" stroke="#6a6a6a" stroke-width="1"/>
<line x1="244.90" y1="236.18" x2="242.70" y2="236.18" stroke="#6a6a6a" stroke-width="1"/>
<line x1="45.30" y1="206.14" x2="47.50" y2="206.14" stroke="#6a6a6a" stroke-width="1"/>
<line x1="244.90" y1="206.14" x2="242.70" y2="206.14" stroke="#6a6a6a" stroke-width="1"/>
<line x1="45.30" y1="176.10" x2="47.50" y2="176.10" stroke="#6a6a6a" stroke-width="1"/>
<line x1="244.90" y1="176.10" x2="242.70" y2="176.10" stroke="#6a6a6a" stroke-width="1"/>
<line x1="45.30" y1="146.06" x2="47.50" y2="146.06" stroke="#6a6a6a" stroke-width="1"/>
<line x1="244.90" y1="146.06" x2="242.70" y2="146.06" stroke="#6a6a6a" stroke-width="1"/>
<line x1="45.30" y1="116.02" x2="47.50" y2="116.02" stroke="#6a6a6a" stroke-width="1"/>
<line x1="244.90" y1="116.02" x2="242.70" y2="116.02" stroke="#6a6a6a" stroke-width="1"/>
<line x1="45.30" y1="85.98" x2="47.50" y2="85.98" stroke="#6a6a6a" stroke-width="1"/>
<line x1="244.90" y1="85.98" x2="242.70" y2="85.98" stroke="#6a6a6a" stroke-width="1"/>
<line x1="45.30" y1="55.94" x2="47.50" y2="55.94" stroke="#6a6a6a" stroke-width="1"/>
<line x1="244.90" y1="55.94" x2="242.70" y2="55.94" stroke="#6a6a6a" stroke-width="1"/>
<rect x="45.30" y="25.90" width="199.60" height="300.40" fill="none" stroke="#6a6a6a" stroke-width="1.1"/>
<text x="41.80" y="331.50" class="t" text-anchor="end">0</text>
<text x="41.80" y="301.46" class="t" text-anchor="end">100</text>
<text x="41.80" y="271.42" class="t" text-anchor="end">200</text>
<text x="41.80" y="241.38" class="t" text-anchor="end">300</text>
<text x="41.80" y="211.34" class="t" text-anchor="end">400</text>
<text x="41.80" y="181.30" class="t" text-anchor="end">500</text>
<text x="41.80" y="151.26" class="t" text-anchor="end">600</text>
<text x="41.80" y="121.22" class="t" text-anchor="end">700</text>
<text x="41.80" y="91.18" class="t" text-anchor="end">800</text>
<text x="41.80" y="61.14" class="t" text-anchor="end">900</text>
<text x="41.80" y="31.10" class="t" text-anchor="end">1000</text>
<text x="45.30" y="342.50" class="t" text-anchor="middle">0</text>
<text x="111.83" y="342.50" class="t" text-anchor="middle">20</text>
<text x="178.37" y="342.50" class="t" text-anchor="middle">40</text>
<text x="244.90" y="342.50" class="t" text-anchor="middle">60</text>
<text x="145.10" y="356.80" class="t" text-anchor="middle">day</text>
<text x="0" y="0" transform="translate(9.60 176.10) rotate(-90)" class="t" text-anchor="middle">Tumor size</text>
<line x1="375.17" y1="326.30" x2="375.17" y2="324.10" stroke="#6a6a6a" stroke-width="1"/>
<line x1="375.17" y1="25.90" x2="375.17" y2="28.10" stroke="#6a6a6a" stroke-width="1"/>
<line x1="441.83" y1="326.30" x2="441.83" y2="324.10" stroke="#6a6a6a" stroke-width="1"/>
<line x1="441.83" y1="25.90" x2="441.83" y2="28.10" stroke="#6a6a6a" stroke-width="1"/>
<line x1="308.50" y1="288.75" x2="310.70" y2="288.75" stroke="#6a6a6a" stroke-width="1"/>
<line x1="508.50" y1="288.75" x2="506.30" y2="288.75" stroke="#6a6a6a" stroke-width="1"/>
<line x1="308.50" y1="251.20" x2="310.70" y2="251.20" stroke="#6a6a6a" stroke-width="1"/>
<line x1="508.50" y1="251.20" x2="506.30" y2="251.20" stroke="#6a6a6a" stroke-width="1"/>
<line x1="308.50" y1="213.65" x2="310.70" y2="213.65" stroke="#6a6a6a" stroke-width="1"/>
<line x1="508.50" y1="213.65" x2="506.30" y2="213.65" stroke="#6a6a6a" stroke-width="1"/>
<line x1="308.50" y1="176.10" x2="310.70" y2="176.10" stroke="#6a6a6a" stroke-width="1"/>
<line x1="508.50" y1="176.10" x2="506.30" y2="176.10" stroke="#6a6a6a" stroke-width="1"/>
<line x1="308.50" y1="138.55" x2="310.70" y2="138.55" stroke="#6a6a6a" stroke-width="1"/>
<line x1="508.50" y1="138.55" x2="506.30" y2="138.55" stroke="#6a6a6a" stroke-width="1"/>
<line x1="308.50" y1="101.00" x2="310.70" y2="101.00" stroke="#6a6a6a" stroke-width="1"/>
<line x1="508.50" y1="101.00" x2="506.30" y2="101.00" stroke="#6a6a6a" stroke-width="1"/>
<line x1="308.50" y1="63.45" x2="310.70" y2="63.45" stroke="#6a6a6a" stroke-width="1"/>
<line x1="508.50" y1="63.45" x2="506.30" y2="63.45" stroke="#6a6a6a" stroke-width="1"/>
<rect x="308.50" y="25.90" width="200.00" height="300.40" fill="none" stroke="#6a6a6a" stroke-width="1.1"/>
<text x="305.00" y="331.50" class="t" text-anchor="end">-100</text>
<text x="305.00" y="293.95" class="t" text-anchor="end">0</text>
<text x="305.00" y="256.40" class="t" text-anchor="end">100</text>
<text x="305.00" y="218.85" class="t" text-anchor="end">200</text>
<text x="305.00" y="181.30" class="t" text-anchor="end">300</text>
<text x="305.00" y="143.75" class="t" text-anchor="end">400</text>
<text x="305.00" y="106.20" class="t" text-anchor="end">500</text>
<text x="305.00" y="68.65" class="t" text-anchor="end">600</text>
<text x="305.00" y="31.10" class="t" text-anchor="end">700</text>
<text x="308.50" y="342.50" class="t" text-anchor="middle">0</text>
<text x="375.17" y="342.50" class="t" text-anchor="middle">20</text>
<text x="441.83" y="342.50" class="t" text-anchor="middle">40</text>
<text x="508.50" y="342.50" class="t" text-anchor="middle">60</text>
<text x="408.50" y="356.80" class="t" text-anchor="middle">day</text>
<text x="0" y="0" transform="translate(273.60 176.10) rotate(-90)" class="t" text-anchor="middle">Tumor size %</text>
<line x1="638.47" y1="326.30" x2="638.47" y2="324.10" stroke="#6a6a6a" stroke-width="1"/>
<line x1="638.47" y1="25.90" x2="638.47" y2="28.10" stroke="#6a6a6a" stroke-width="1"/>
<line x1="705.13" y1="326.30" x2="705.13" y2="324.10" stroke="#6a6a6a" stroke-width="1"/>
<line x1="705.13" y1="25.90" x2="705.13" y2="28.10" stroke="#6a6a6a" stroke-width="1"/>
<line x1="571.80" y1="296.26" x2="574.00" y2="296.26" stroke="#6a6a6a" stroke-width="1"/>
<line x1="771.80" y1="296.26" x2="769.60" y2="296.26" stroke="#6a6a6a" stroke-width="1"/>
<line x1="571.80" y1="266.22" x2="574.00" y2="266.22" stroke="#6a6a6a" stroke-width="1"/>
<line x1="771.80" y1="266.22" x2="769.60" y2="266.22" stroke="#6a6a6a" stroke-width="1"/>
<line x1="571.80" y1="236.18" x2="574.00" y2="236.18" stroke="#6a6a6a" stroke-width="1"/>
<line x1="771.80" y1="236.18" x2="769.60" y2="236.18" stroke="#6a6a6a" stroke-width="1"/>
<line x1="571.80" y1="206.14" x2="574.00" y2="206.14" stroke="#6a6a6a" stroke-width="1"/>
<line x1="771.80" y1="206.14" x2="769.60" y2="206.14" stroke="#6a6a6a" stroke-width="1"/>
<line x1="571.80" y1="176.10" x2="574.00" y2="176.10" stroke="#6a6a6a" stroke-width="1"/>
<line x1="771.80" y1="176.10" x2="769.60" y2="176.10" stroke="#6a6a6a" stroke-width="1"/>
<line x1="571.80" y1="146.06" x2="574.00" y2="146.06" stroke="#6a6a6a" stroke-width="1"/>
<line x1="771.80" y1="146.06" x2="769.60" y2="146.06" stroke="#6a6a6a" stroke-width="1"/>
<line x1="571.80" y1="116.02" x2="574.00" y2="116.02" stroke="#6a6a6a" stroke-width="1"/>
<line x1="771.80" y1="116.02" x2="769.60" y2="116.02" stroke="#6a6a6a" stroke-width="1"/>
<line x1="571.80" y1="85.98" x2="574.00" y2="85.98" stroke="#6a6a6a" stroke-width="1"/>
<line x1="771.80" y1="85.98" x2="769.60" y2="85.98" stroke="#6a6a6a" stroke-width="1"/>
<line x1="571.80" y1="55.94" x2="574.00" y2="55.94" stroke="#6a6a6a" stroke-width="1"/>
<line x1="771.80" y1="55.94" x2="769.60" y2="55.94" stroke="#6a6a6a" stroke-width="1"/>
<rect x="571.80" y="25.90" width="200.00" height="300.40" fill="none" stroke="#6a6a6a" stroke-width="1.1"/>
<text x="568.30" y="331.50" class="t" text-anchor="end">-90</text>
<text x="568.30" y="301.46" class="t" text-anchor="end">-80</text>
<text x="568.30" y="271.42" class="t" text-anchor="end">-70</text>
<text x="568.30" y="241.38" class="t" text-anchor="end">-60</text>
<text x="568.30" y="211.34" class="t" text-anchor="end">-50</text>
<text x="568.30" y="181.30" class="t" text-anchor="end">-40</text>
<text x="568.30" y="151.26" class="t" text-anchor="end">-30</text>
<text x="568.30" y="121.22" class="t" text-anchor="end">-20</text>
<text x="568.30" y="91.18" class="t" text-anchor="end">-10</text>
<text x="568.30" y="61.14" class="t" text-anchor="end">0</text>
<text x="568.30" y="31.10" class="t" text-anchor="end">10</text>
<text x="571.80" y="342.50" class="t" text-anchor="middle">0</text>
<text x="638.47" y="342.50" class="t" text-anchor="middle">20</text>
<text x="705.13" y="342.50" class="t" text-anchor="middle">40</text>
<text x="771.80" y="342.50" class="t" text-anchor="middle">60</text>
<text x="671.80" y="356.80" class="t" text-anchor="middle">day</text>
<text x="0" y="0" transform="translate(545.50 176.10) rotate(-90)" class="t" text-anchor="middle">Tumor size %</text>
<rect x="157.00" y="30.40" width="62.4" height="149.8" fill="#fff" stroke="#262626" stroke-width="1"/>
<line x1="160.00" y1="39.10" x2="182.60" y2="39.10" stroke="#0072BD" stroke-width="1.35" />
<text x="185.20" y="43.90" class="beta">&#946;</text>
<text x="192.50" y="43.90" class="t lg">=0.1</text>
<line x1="160.00" y1="53.85" x2="182.60" y2="53.85" stroke="#D95319" stroke-width="1.50" stroke-dasharray="7.6 4.5"/>
<text x="185.20" y="58.65" class="t lg">0.2</text>
<line x1="160.00" y1="68.60" x2="182.60" y2="68.60" stroke="#EDB120" stroke-width="1.15" stroke-dasharray="1.1 1.95" />
<text x="185.20" y="73.40" class="t lg">0.3</text>
<line x1="160.00" y1="83.35" x2="182.60" y2="83.35" stroke="#7E2F8E" stroke-width="1.35" />
<text x="185.20" y="88.15" class="t lg">0.4</text>
<line x1="160.00" y1="98.10" x2="182.60" y2="98.10" stroke="#77AC30" stroke-width="1.50" stroke-dasharray="7.6 4.5"/>
<text x="185.20" y="102.90" class="t lg">0.5</text>
<line x1="160.00" y1="112.85" x2="182.60" y2="112.85" stroke="#4DBEEE" stroke-width="1.15" stroke-dasharray="1.1 1.95" />
<text x="185.20" y="117.65" class="t lg">0.6</text>
<line x1="160.00" y1="127.60" x2="182.60" y2="127.60" stroke="#A2142F" stroke-width="1.35" />
<text x="185.20" y="132.40" class="t lg">0.7</text>
<line x1="160.00" y1="142.35" x2="182.60" y2="142.35" stroke="#0072BD" stroke-width="1.50" stroke-dasharray="7.6 4.5"/>
<text x="185.20" y="147.15" class="t lg">0.8</text>
<line x1="160.00" y1="157.10" x2="182.60" y2="157.10" stroke="#D95319" stroke-width="1.15" stroke-dasharray="1.1 1.95" />
<text x="185.20" y="161.90" class="t lg">0.9</text>
<line x1="160.00" y1="171.85" x2="182.60" y2="171.85" stroke="#EDB120" stroke-width="1.35" />
<text x="185.20" y="176.65" class="t lg">1</text>
<rect x="321.50" y="33.25" width="62.4" height="149.8" fill="#fff" stroke="#262626" stroke-width="1"/>
<line x1="324.50" y1="41.95" x2="347.10" y2="41.95" stroke="#0072BD" stroke-width="1.35" />
<text x="349.70" y="46.75" class="beta">&#946;</text>
<text x="357.00" y="46.75" class="t lg">=0.1</text>
<line x1="324.50" y1="56.70" x2="347.10" y2="56.70" stroke="#D95319" stroke-width="1.50" stroke-dasharray="7.6 4.5"/>
<text x="349.70" y="61.50" class="t lg">0.2</text>
<line x1="324.50" y1="71.45" x2="347.10" y2="71.45" stroke="#EDB120" stroke-width="1.15" stroke-dasharray="1.1 1.95" />
<text x="349.70" y="76.25" class="t lg">0.3</text>
<line x1="324.50" y1="86.20" x2="347.10" y2="86.20" stroke="#7E2F8E" stroke-width="1.35" />
<text x="349.70" y="91.00" class="t lg">0.4</text>
<line x1="324.50" y1="100.95" x2="347.10" y2="100.95" stroke="#77AC30" stroke-width="1.50" stroke-dasharray="7.6 4.5"/>
<text x="349.70" y="105.75" class="t lg">0.5</text>
<line x1="324.50" y1="115.70" x2="347.10" y2="115.70" stroke="#4DBEEE" stroke-width="1.15" stroke-dasharray="1.1 1.95" />
<text x="349.70" y="120.50" class="t lg">0.6</text>
<line x1="324.50" y1="130.45" x2="347.10" y2="130.45" stroke="#A2142F" stroke-width="1.35" />
<text x="349.70" y="135.25" class="t lg">0.7</text>
<line x1="324.50" y1="145.20" x2="347.10" y2="145.20" stroke="#0072BD" stroke-width="1.50" stroke-dasharray="7.6 4.5"/>
<text x="349.70" y="150.00" class="t lg">0.8</text>
<line x1="324.50" y1="159.95" x2="347.10" y2="159.95" stroke="#D95319" stroke-width="1.15" stroke-dasharray="1.1 1.95" />
<text x="349.70" y="164.75" class="t lg">0.9</text>
<line x1="324.50" y1="174.70" x2="347.10" y2="174.70" stroke="#EDB120" stroke-width="1.35" />
<text x="349.70" y="179.50" class="t lg">1</text>
<rect x="697.50" y="160.25" width="62.4" height="149.8" fill="#fff" stroke="#262626" stroke-width="1"/>
<line x1="700.50" y1="168.95" x2="723.10" y2="168.95" stroke="#0072BD" stroke-width="1.35" />
<text x="725.70" y="173.75" class="beta">&#946;</text>
<text x="733.00" y="173.75" class="t lg">=0.1</text>
<line x1="700.50" y1="183.70" x2="723.10" y2="183.70" stroke="#D95319" stroke-width="1.50" stroke-dasharray="7.6 4.5"/>
<text x="725.70" y="188.50" class="t lg">0.2</text>
<line x1="700.50" y1="198.45" x2="723.10" y2="198.45" stroke="#EDB120" stroke-width="1.15" stroke-dasharray="1.1 1.95" />
<text x="725.70" y="203.25" class="t lg">0.3</text>
<line x1="700.50" y1="213.20" x2="723.10" y2="213.20" stroke="#7E2F8E" stroke-width="1.35" />
<text x="725.70" y="218.00" class="t lg">0.4</text>
<line x1="700.50" y1="227.95" x2="723.10" y2="227.95" stroke="#77AC30" stroke-width="1.50" stroke-dasharray="7.6 4.5"/>
<text x="725.70" y="232.75" class="t lg">0.5</text>
<line x1="700.50" y1="242.70" x2="723.10" y2="242.70" stroke="#4DBEEE" stroke-width="1.15" stroke-dasharray="1.1 1.95" />
<text x="725.70" y="247.50" class="t lg">0.6</text>
<line x1="700.50" y1="257.45" x2="723.10" y2="257.45" stroke="#A2142F" stroke-width="1.35" />
<text x="725.70" y="262.25" class="t lg">0.7</text>
<line x1="700.50" y1="272.20" x2="723.10" y2="272.20" stroke="#0072BD" stroke-width="1.50" stroke-dasharray="7.6 4.5"/>
<text x="725.70" y="277.00" class="t lg">0.8</text>
<line x1="700.50" y1="286.95" x2="723.10" y2="286.95" stroke="#D95319" stroke-width="1.15" stroke-dasharray="1.1 1.95" />
<text x="725.70" y="291.75" class="t lg">0.9</text>
<line x1="700.50" y1="301.70" x2="723.10" y2="301.70" stroke="#EDB120" stroke-width="1.35" />
<text x="725.70" y="306.50" class="t lg">1</text>
<text x="76.75" y="14.70" class="tb" font-size="20" letter-spacing="0.6">(a)</text>
<text x="106.25" y="15.80" class="tb" font-size="12">T</text>
<text x="114.20" y="22.80" class="tb" font-size="9">1</text>
<text x="118.00" y="15.80" class="tb" font-size="12">,</text>
<text x="128.70" y="15.80" class="tb" font-size="12">C</text>
<text x="138.00" y="22.80" class="tb" font-size="9">0</text>
<text x="143.00" y="15.80" class="tb" font-size="12">=200,</text>
<text x="180.00" y="15.80" class="tb" font-size="12">k=2</text>
<text x="306.80" y="14.70" class="tb" font-size="20" letter-spacing="0.6">(b)</text>
<text x="335.20" y="15.80" class="tb" font-size="12.3">normalized</text>
<text x="403.10" y="15.80" class="tb" font-size="12">T</text>
<text x="411.05" y="22.80" class="tb" font-size="9">1</text>
<text x="414.85" y="15.80" class="tb" font-size="12">,</text>
<text x="425.55" y="15.80" class="tb" font-size="12">C</text>
<text x="434.85" y="22.80" class="tb" font-size="9">0</text>
<text x="439.85" y="15.80" class="tb" font-size="12">=200,</text>
<text x="476.85" y="15.80" class="tb" font-size="12">k=2</text>
<text x="555.60" y="14.70" class="tb" font-size="20" letter-spacing="0.6">(c)</text>
<text x="582.90" y="15.40" class="tb" font-size="13">normalized</text>
<text x="654.90" y="15.40" class="tb" font-size="12.6">T</text>
<text x="662.00" y="22.00" class="tb" font-size="9.5">1</text>
<text x="668.70" y="15.40" class="tb" font-size="12.6">+</text>
<text x="675.80" y="15.40" class="tb" font-size="12.6">T</text>
<text x="683.90" y="22.00" class="tb" font-size="9.5">2</text>
<text x="689.20" y="15.40" class="tb" font-size="12.6">,</text>
<text x="701.60" y="15.40" class="tb" font-size="12.6">C</text>
<text x="710.90" y="22.00" class="tb" font-size="9.5">0</text>
<text x="716.50" y="15.40" class="tb" font-size="12.6">=200,</text>
<text x="755.60" y="15.40" class="tb" font-size="12.6">k=2</text>
</svg>
</body></html>
